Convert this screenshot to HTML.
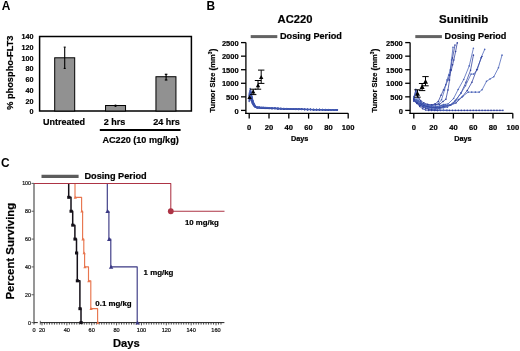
<!DOCTYPE html>
<html><head><meta charset="utf-8"><style>
html,body{margin:0;padding:0;background:#fff;}
svg{display:block;will-change:transform;filter:blur(0.35px);font-family:"Liberation Sans",sans-serif;} text{stroke:#000;stroke-width:0.2px;} 
</style></head><body>
<svg width="520" height="351" viewBox="0 0 520 351" font-weight="bold" >
<rect width="520" height="351" fill="#fff"/>
<text x="1.70" y="9.80" font-size="11.9" text-anchor="start" fill="#000" style="stroke-width:0">A</text>
<rect x="39.6" y="36.5" width="151.8" height="74.5" fill="none" stroke="#000" stroke-width="1.5"/>
<text x="33.60" y="114.35" font-size="7.2" text-anchor="end" fill="#000" >0</text>
<text x="33.60" y="103.62" font-size="7.2" text-anchor="end" fill="#000" >20</text>
<text x="33.60" y="92.89" font-size="7.2" text-anchor="end" fill="#000" >40</text>
<text x="33.60" y="82.16" font-size="7.2" text-anchor="end" fill="#000" >60</text>
<text x="33.60" y="71.43" font-size="7.2" text-anchor="end" fill="#000" >80</text>
<text x="33.60" y="60.71" font-size="7.2" text-anchor="end" fill="#000" >100</text>
<text x="33.60" y="49.98" font-size="7.2" text-anchor="end" fill="#000" >120</text>
<text x="33.60" y="39.25" font-size="7.2" text-anchor="end" fill="#000" >140</text>
<rect x="54.70" y="57.79" width="20" height="53.21" fill="#919191" stroke="#000" stroke-width="1"/>
<rect x="105.55" y="105.52" width="20" height="5.48" fill="#919191" stroke="#000" stroke-width="1"/>
<rect x="155.95" y="76.73" width="20" height="34.27" fill="#919191" stroke="#000" stroke-width="1"/>
<line x1="64.70" y1="47.14" x2="64.70" y2="68.43" stroke="#000" stroke-width="1.1" />
<line x1="63.70" y1="47.14" x2="65.70" y2="47.14" stroke="#000" stroke-width="1.1" />
<line x1="63.70" y1="68.43" x2="65.70" y2="68.43" stroke="#000" stroke-width="1.1" />
<circle cx="115.5" cy="105.8" r="1.2" fill="#000"/>
<line x1="166.10" y1="74.30" x2="166.10" y2="80.00" stroke="#000" stroke-width="1.2" />
<line x1="164.80" y1="74.30" x2="167.40" y2="74.30" stroke="#000" stroke-width="1.2" />
<line x1="164.80" y1="80.00" x2="167.40" y2="80.00" stroke="#000" stroke-width="1.2" />
<text x="64.00" y="124.50" font-size="9" text-anchor="middle" fill="#000" >Untreated</text>
<text x="114.50" y="124.50" font-size="9" text-anchor="middle" fill="#000" >2 hrs</text>
<text x="166.50" y="124.50" font-size="9" text-anchor="middle" fill="#000" >24 hrs</text>
<line x1="99.80" y1="130.00" x2="180.60" y2="130.00" stroke="#000" stroke-width="1.8" />
<text x="140.60" y="142.80" font-size="9.1" text-anchor="middle" fill="#000" >AC220 (10 mg/kg)</text>
<text x="0.00" y="0.00" font-size="9.25" text-anchor="middle" fill="#000" transform="translate(12.7,72.7) rotate(-90)">% phospho-FLT3</text>
<text x="206.60" y="9.60" font-size="11.9" text-anchor="start" fill="#000" style="stroke-width:0">B</text>
<text x="295.00" y="23.20" font-size="11.2" text-anchor="middle" fill="#000" >AC220</text>
<line x1="250.70" y1="36.60" x2="277.30" y2="36.60" stroke="#636363" stroke-width="3.0" />
<text x="280.00" y="39.20" font-size="9.15" text-anchor="start" fill="#000" >Dosing Period</text>
<line x1="245.90" y1="42.60" x2="245.90" y2="113.95" stroke="#000" stroke-width="1.3" />
<line x1="245.25" y1="113.30" x2="348.20" y2="113.30" stroke="#000" stroke-width="1.3" />
<line x1="241.00" y1="110.40" x2="245.90" y2="110.40" stroke="#000" stroke-width="1.3" />
<text x="238.60" y="113.50" font-size="7.5" text-anchor="end" fill="#000" >0</text>
<line x1="249.20" y1="113.30" x2="249.20" y2="118.60" stroke="#000" stroke-width="1.3" />
<text x="249.20" y="129.50" font-size="7.6" text-anchor="middle" fill="#000" >0</text>
<line x1="241.00" y1="96.84" x2="245.90" y2="96.84" stroke="#000" stroke-width="1.3" />
<text x="238.60" y="99.94" font-size="7.5" text-anchor="end" fill="#000" >500</text>
<line x1="269.00" y1="113.30" x2="269.00" y2="118.60" stroke="#000" stroke-width="1.3" />
<text x="269.00" y="129.50" font-size="7.6" text-anchor="middle" fill="#000" >20</text>
<line x1="241.00" y1="83.28" x2="245.90" y2="83.28" stroke="#000" stroke-width="1.3" />
<text x="238.60" y="86.38" font-size="7.5" text-anchor="end" fill="#000" >1000</text>
<line x1="288.80" y1="113.30" x2="288.80" y2="118.60" stroke="#000" stroke-width="1.3" />
<text x="288.80" y="129.50" font-size="7.6" text-anchor="middle" fill="#000" >40</text>
<line x1="241.00" y1="69.72" x2="245.90" y2="69.72" stroke="#000" stroke-width="1.3" />
<text x="238.60" y="72.82" font-size="7.5" text-anchor="end" fill="#000" >1500</text>
<line x1="308.60" y1="113.30" x2="308.60" y2="118.60" stroke="#000" stroke-width="1.3" />
<text x="308.60" y="129.50" font-size="7.6" text-anchor="middle" fill="#000" >60</text>
<line x1="241.00" y1="56.16" x2="245.90" y2="56.16" stroke="#000" stroke-width="1.3" />
<text x="238.60" y="59.26" font-size="7.5" text-anchor="end" fill="#000" >2000</text>
<line x1="328.40" y1="113.30" x2="328.40" y2="118.60" stroke="#000" stroke-width="1.3" />
<text x="328.40" y="129.50" font-size="7.6" text-anchor="middle" fill="#000" >80</text>
<line x1="241.00" y1="42.60" x2="245.90" y2="42.60" stroke="#000" stroke-width="1.3" />
<text x="238.60" y="45.70" font-size="7.5" text-anchor="end" fill="#000" >2500</text>
<line x1="348.20" y1="113.30" x2="348.20" y2="118.60" stroke="#000" stroke-width="1.3" />
<text x="348.20" y="129.50" font-size="7.6" text-anchor="middle" fill="#000" >100</text>
<text x="299.70" y="140.80" font-size="7.3" text-anchor="middle" fill="#000" >Days</text>
<text transform="translate(215.4,80.6) rotate(-90)" x="0" y="0" font-size="7.5" text-anchor="middle">Tumor Size <tspan font-size="8.6" dy="0.6">(</tspan><tspan dy="-0.6">mm</tspan><tspan font-size="4.8" dy="-3.0">3</tspan><tspan font-size="8.6" dy="3.6">)</tspan></text>
<polyline points="249.20,101.53 250.19,99.44 251.18,100.69 252.17,103.20 253.16,105.05 254.15,106.30 255.14,107.14 257.12,107.96 259.10,108.00 261.08,108.09 263.06,108.37 265.04,108.48 267.02,108.31 269.00,108.58 271.97,108.71 274.94,108.58 277.91,108.86 280.88,108.84 283.85,109.05 286.82,109.08 289.79,109.32 292.76,109.24 295.73,109.24 298.70,109.42 301.67,109.41 304.64,109.49 307.61,109.74 310.58,109.57 313.55,109.67 316.52,109.81 319.49,109.94 322.46,109.71 325.43,109.87 328.40,109.83 331.37,109.81 334.34,109.89 337.31,109.85" fill="none" stroke="#2f3f9c" stroke-width="0.8" stroke-linejoin="round" opacity="0.8"/>
<circle cx="249.20" cy="101.53" r="0.75" fill="#2f3f9c" opacity="0.85"/>
<circle cx="250.19" cy="99.44" r="0.75" fill="#2f3f9c" opacity="0.85"/>
<circle cx="251.18" cy="100.69" r="0.75" fill="#2f3f9c" opacity="0.85"/>
<circle cx="252.17" cy="103.20" r="0.75" fill="#2f3f9c" opacity="0.85"/>
<circle cx="253.16" cy="105.05" r="0.75" fill="#2f3f9c" opacity="0.85"/>
<circle cx="254.15" cy="106.30" r="0.75" fill="#2f3f9c" opacity="0.85"/>
<circle cx="255.14" cy="107.14" r="0.75" fill="#2f3f9c" opacity="0.85"/>
<circle cx="257.12" cy="107.96" r="0.75" fill="#2f3f9c" opacity="0.85"/>
<circle cx="259.10" cy="108.00" r="0.75" fill="#2f3f9c" opacity="0.85"/>
<circle cx="261.08" cy="108.09" r="0.75" fill="#2f3f9c" opacity="0.85"/>
<circle cx="263.06" cy="108.37" r="0.75" fill="#2f3f9c" opacity="0.85"/>
<circle cx="265.04" cy="108.48" r="0.75" fill="#2f3f9c" opacity="0.85"/>
<circle cx="267.02" cy="108.31" r="0.75" fill="#2f3f9c" opacity="0.85"/>
<circle cx="269.00" cy="108.58" r="0.75" fill="#2f3f9c" opacity="0.85"/>
<circle cx="271.97" cy="108.71" r="0.75" fill="#2f3f9c" opacity="0.85"/>
<circle cx="274.94" cy="108.58" r="0.75" fill="#2f3f9c" opacity="0.85"/>
<circle cx="277.91" cy="108.86" r="0.75" fill="#2f3f9c" opacity="0.85"/>
<circle cx="280.88" cy="108.84" r="0.75" fill="#2f3f9c" opacity="0.85"/>
<circle cx="283.85" cy="109.05" r="0.75" fill="#2f3f9c" opacity="0.85"/>
<circle cx="286.82" cy="109.08" r="0.75" fill="#2f3f9c" opacity="0.85"/>
<circle cx="289.79" cy="109.32" r="0.75" fill="#2f3f9c" opacity="0.85"/>
<circle cx="292.76" cy="109.24" r="0.75" fill="#2f3f9c" opacity="0.85"/>
<circle cx="295.73" cy="109.24" r="0.75" fill="#2f3f9c" opacity="0.85"/>
<circle cx="298.70" cy="109.42" r="0.75" fill="#2f3f9c" opacity="0.85"/>
<circle cx="301.67" cy="109.41" r="0.75" fill="#2f3f9c" opacity="0.85"/>
<circle cx="304.64" cy="109.49" r="0.75" fill="#2f3f9c" opacity="0.85"/>
<circle cx="307.61" cy="109.74" r="0.75" fill="#2f3f9c" opacity="0.85"/>
<circle cx="310.58" cy="109.57" r="0.75" fill="#2f3f9c" opacity="0.85"/>
<circle cx="313.55" cy="109.67" r="0.75" fill="#2f3f9c" opacity="0.85"/>
<circle cx="316.52" cy="109.81" r="0.75" fill="#2f3f9c" opacity="0.85"/>
<circle cx="319.49" cy="109.94" r="0.75" fill="#2f3f9c" opacity="0.85"/>
<circle cx="322.46" cy="109.71" r="0.75" fill="#2f3f9c" opacity="0.85"/>
<circle cx="325.43" cy="109.87" r="0.75" fill="#2f3f9c" opacity="0.85"/>
<circle cx="328.40" cy="109.83" r="0.75" fill="#2f3f9c" opacity="0.85"/>
<circle cx="331.37" cy="109.81" r="0.75" fill="#2f3f9c" opacity="0.85"/>
<circle cx="334.34" cy="109.89" r="0.75" fill="#2f3f9c" opacity="0.85"/>
<circle cx="337.31" cy="109.85" r="0.75" fill="#2f3f9c" opacity="0.85"/>
<polyline points="249.20,100.48 250.19,98.10 251.18,99.52 252.17,102.38 253.16,104.48 254.15,105.90 255.14,106.86 257.12,107.76 259.10,107.71 261.08,107.84 263.06,108.20 265.04,108.29 267.02,108.36 269.00,108.21 271.97,108.51 274.94,108.57 277.91,108.80 280.88,108.84 283.85,108.98 286.82,109.08 289.79,109.09 292.76,109.18 295.73,109.15 298.70,109.29 301.67,109.28 304.64,109.37 307.61,109.38 310.58,109.54 313.55,109.76 316.52,109.58 319.49,109.59 322.46,109.65 325.43,109.80 328.40,109.79 331.37,109.99 334.34,109.82 337.31,109.94" fill="none" stroke="#4a63b8" stroke-width="0.8" stroke-linejoin="round" opacity="0.8"/>
<circle cx="249.20" cy="100.48" r="0.75" fill="#4a63b8" opacity="0.85"/>
<circle cx="250.19" cy="98.10" r="0.75" fill="#4a63b8" opacity="0.85"/>
<circle cx="251.18" cy="99.52" r="0.75" fill="#4a63b8" opacity="0.85"/>
<circle cx="252.17" cy="102.38" r="0.75" fill="#4a63b8" opacity="0.85"/>
<circle cx="253.16" cy="104.48" r="0.75" fill="#4a63b8" opacity="0.85"/>
<circle cx="254.15" cy="105.90" r="0.75" fill="#4a63b8" opacity="0.85"/>
<circle cx="255.14" cy="106.86" r="0.75" fill="#4a63b8" opacity="0.85"/>
<circle cx="257.12" cy="107.76" r="0.75" fill="#4a63b8" opacity="0.85"/>
<circle cx="259.10" cy="107.71" r="0.75" fill="#4a63b8" opacity="0.85"/>
<circle cx="261.08" cy="107.84" r="0.75" fill="#4a63b8" opacity="0.85"/>
<circle cx="263.06" cy="108.20" r="0.75" fill="#4a63b8" opacity="0.85"/>
<circle cx="265.04" cy="108.29" r="0.75" fill="#4a63b8" opacity="0.85"/>
<circle cx="267.02" cy="108.36" r="0.75" fill="#4a63b8" opacity="0.85"/>
<circle cx="269.00" cy="108.21" r="0.75" fill="#4a63b8" opacity="0.85"/>
<circle cx="271.97" cy="108.51" r="0.75" fill="#4a63b8" opacity="0.85"/>
<circle cx="274.94" cy="108.57" r="0.75" fill="#4a63b8" opacity="0.85"/>
<circle cx="277.91" cy="108.80" r="0.75" fill="#4a63b8" opacity="0.85"/>
<circle cx="280.88" cy="108.84" r="0.75" fill="#4a63b8" opacity="0.85"/>
<circle cx="283.85" cy="108.98" r="0.75" fill="#4a63b8" opacity="0.85"/>
<circle cx="286.82" cy="109.08" r="0.75" fill="#4a63b8" opacity="0.85"/>
<circle cx="289.79" cy="109.09" r="0.75" fill="#4a63b8" opacity="0.85"/>
<circle cx="292.76" cy="109.18" r="0.75" fill="#4a63b8" opacity="0.85"/>
<circle cx="295.73" cy="109.15" r="0.75" fill="#4a63b8" opacity="0.85"/>
<circle cx="298.70" cy="109.29" r="0.75" fill="#4a63b8" opacity="0.85"/>
<circle cx="301.67" cy="109.28" r="0.75" fill="#4a63b8" opacity="0.85"/>
<circle cx="304.64" cy="109.37" r="0.75" fill="#4a63b8" opacity="0.85"/>
<circle cx="307.61" cy="109.38" r="0.75" fill="#4a63b8" opacity="0.85"/>
<circle cx="310.58" cy="109.54" r="0.75" fill="#4a63b8" opacity="0.85"/>
<circle cx="313.55" cy="109.76" r="0.75" fill="#4a63b8" opacity="0.85"/>
<circle cx="316.52" cy="109.58" r="0.75" fill="#4a63b8" opacity="0.85"/>
<circle cx="319.49" cy="109.59" r="0.75" fill="#4a63b8" opacity="0.85"/>
<circle cx="322.46" cy="109.65" r="0.75" fill="#4a63b8" opacity="0.85"/>
<circle cx="325.43" cy="109.80" r="0.75" fill="#4a63b8" opacity="0.85"/>
<circle cx="328.40" cy="109.79" r="0.75" fill="#4a63b8" opacity="0.85"/>
<circle cx="331.37" cy="109.99" r="0.75" fill="#4a63b8" opacity="0.85"/>
<circle cx="334.34" cy="109.82" r="0.75" fill="#4a63b8" opacity="0.85"/>
<circle cx="337.31" cy="109.94" r="0.75" fill="#4a63b8" opacity="0.85"/>
<polyline points="249.20,99.83 250.19,97.19 251.18,98.77 252.17,101.94 253.16,104.26 254.15,105.85 255.14,106.90 257.12,107.75 259.10,107.81 261.08,108.21 263.06,108.08 265.04,108.31 267.02,108.48 269.00,108.52 271.97,108.50 274.94,108.58 277.91,108.96 280.88,108.87 283.85,109.16 286.82,109.03 289.79,109.24 292.76,109.14 295.73,109.18 298.70,109.40 301.67,109.30 304.64,109.59 307.61,109.72 310.58,109.60 313.55,109.84 316.52,109.83 319.49,109.80 322.46,109.78 325.43,109.96 328.40,110.04 331.37,109.80 334.34,110.01 337.31,109.83" fill="none" stroke="#2f3f9c" stroke-width="0.8" stroke-linejoin="round" opacity="0.8"/>
<circle cx="249.20" cy="99.83" r="0.75" fill="#2f3f9c" opacity="0.85"/>
<circle cx="250.19" cy="97.19" r="0.75" fill="#2f3f9c" opacity="0.85"/>
<circle cx="251.18" cy="98.77" r="0.75" fill="#2f3f9c" opacity="0.85"/>
<circle cx="252.17" cy="101.94" r="0.75" fill="#2f3f9c" opacity="0.85"/>
<circle cx="253.16" cy="104.26" r="0.75" fill="#2f3f9c" opacity="0.85"/>
<circle cx="254.15" cy="105.85" r="0.75" fill="#2f3f9c" opacity="0.85"/>
<circle cx="255.14" cy="106.90" r="0.75" fill="#2f3f9c" opacity="0.85"/>
<circle cx="257.12" cy="107.75" r="0.75" fill="#2f3f9c" opacity="0.85"/>
<circle cx="259.10" cy="107.81" r="0.75" fill="#2f3f9c" opacity="0.85"/>
<circle cx="261.08" cy="108.21" r="0.75" fill="#2f3f9c" opacity="0.85"/>
<circle cx="263.06" cy="108.08" r="0.75" fill="#2f3f9c" opacity="0.85"/>
<circle cx="265.04" cy="108.31" r="0.75" fill="#2f3f9c" opacity="0.85"/>
<circle cx="267.02" cy="108.48" r="0.75" fill="#2f3f9c" opacity="0.85"/>
<circle cx="269.00" cy="108.52" r="0.75" fill="#2f3f9c" opacity="0.85"/>
<circle cx="271.97" cy="108.50" r="0.75" fill="#2f3f9c" opacity="0.85"/>
<circle cx="274.94" cy="108.58" r="0.75" fill="#2f3f9c" opacity="0.85"/>
<circle cx="277.91" cy="108.96" r="0.75" fill="#2f3f9c" opacity="0.85"/>
<circle cx="280.88" cy="108.87" r="0.75" fill="#2f3f9c" opacity="0.85"/>
<circle cx="283.85" cy="109.16" r="0.75" fill="#2f3f9c" opacity="0.85"/>
<circle cx="286.82" cy="109.03" r="0.75" fill="#2f3f9c" opacity="0.85"/>
<circle cx="289.79" cy="109.24" r="0.75" fill="#2f3f9c" opacity="0.85"/>
<circle cx="292.76" cy="109.14" r="0.75" fill="#2f3f9c" opacity="0.85"/>
<circle cx="295.73" cy="109.18" r="0.75" fill="#2f3f9c" opacity="0.85"/>
<circle cx="298.70" cy="109.40" r="0.75" fill="#2f3f9c" opacity="0.85"/>
<circle cx="301.67" cy="109.30" r="0.75" fill="#2f3f9c" opacity="0.85"/>
<circle cx="304.64" cy="109.59" r="0.75" fill="#2f3f9c" opacity="0.85"/>
<circle cx="307.61" cy="109.72" r="0.75" fill="#2f3f9c" opacity="0.85"/>
<circle cx="310.58" cy="109.60" r="0.75" fill="#2f3f9c" opacity="0.85"/>
<circle cx="313.55" cy="109.84" r="0.75" fill="#2f3f9c" opacity="0.85"/>
<circle cx="316.52" cy="109.83" r="0.75" fill="#2f3f9c" opacity="0.85"/>
<circle cx="319.49" cy="109.80" r="0.75" fill="#2f3f9c" opacity="0.85"/>
<circle cx="322.46" cy="109.78" r="0.75" fill="#2f3f9c" opacity="0.85"/>
<circle cx="325.43" cy="109.96" r="0.75" fill="#2f3f9c" opacity="0.85"/>
<circle cx="328.40" cy="110.04" r="0.75" fill="#2f3f9c" opacity="0.85"/>
<circle cx="331.37" cy="109.80" r="0.75" fill="#2f3f9c" opacity="0.85"/>
<circle cx="334.34" cy="110.01" r="0.75" fill="#2f3f9c" opacity="0.85"/>
<circle cx="337.31" cy="109.83" r="0.75" fill="#2f3f9c" opacity="0.85"/>
<polyline points="249.20,98.22 250.19,95.11 251.18,96.97 252.17,100.70 253.16,103.44 254.15,105.30 255.14,106.54 257.12,107.68 259.10,107.77 261.08,107.85 263.06,107.97 265.04,108.09 267.02,108.17 269.00,108.16 271.97,108.44 274.94,108.59 277.91,108.61 280.88,108.88 283.85,108.96 286.82,108.84 289.79,109.08 292.76,109.15 295.73,109.41 298.70,109.35 301.67,109.37 304.64,109.61 307.61,109.48 310.58,109.53 313.55,109.77 316.52,109.64 319.49,109.74 322.46,109.71 325.43,109.86 328.40,109.78 331.37,109.81 334.34,110.07 337.31,110.09" fill="none" stroke="#4a63b8" stroke-width="0.8" stroke-linejoin="round" opacity="0.8"/>
<circle cx="249.20" cy="98.22" r="0.75" fill="#4a63b8" opacity="0.85"/>
<circle cx="250.19" cy="95.11" r="0.75" fill="#4a63b8" opacity="0.85"/>
<circle cx="251.18" cy="96.97" r="0.75" fill="#4a63b8" opacity="0.85"/>
<circle cx="252.17" cy="100.70" r="0.75" fill="#4a63b8" opacity="0.85"/>
<circle cx="253.16" cy="103.44" r="0.75" fill="#4a63b8" opacity="0.85"/>
<circle cx="254.15" cy="105.30" r="0.75" fill="#4a63b8" opacity="0.85"/>
<circle cx="255.14" cy="106.54" r="0.75" fill="#4a63b8" opacity="0.85"/>
<circle cx="257.12" cy="107.68" r="0.75" fill="#4a63b8" opacity="0.85"/>
<circle cx="259.10" cy="107.77" r="0.75" fill="#4a63b8" opacity="0.85"/>
<circle cx="261.08" cy="107.85" r="0.75" fill="#4a63b8" opacity="0.85"/>
<circle cx="263.06" cy="107.97" r="0.75" fill="#4a63b8" opacity="0.85"/>
<circle cx="265.04" cy="108.09" r="0.75" fill="#4a63b8" opacity="0.85"/>
<circle cx="267.02" cy="108.17" r="0.75" fill="#4a63b8" opacity="0.85"/>
<circle cx="269.00" cy="108.16" r="0.75" fill="#4a63b8" opacity="0.85"/>
<circle cx="271.97" cy="108.44" r="0.75" fill="#4a63b8" opacity="0.85"/>
<circle cx="274.94" cy="108.59" r="0.75" fill="#4a63b8" opacity="0.85"/>
<circle cx="277.91" cy="108.61" r="0.75" fill="#4a63b8" opacity="0.85"/>
<circle cx="280.88" cy="108.88" r="0.75" fill="#4a63b8" opacity="0.85"/>
<circle cx="283.85" cy="108.96" r="0.75" fill="#4a63b8" opacity="0.85"/>
<circle cx="286.82" cy="108.84" r="0.75" fill="#4a63b8" opacity="0.85"/>
<circle cx="289.79" cy="109.08" r="0.75" fill="#4a63b8" opacity="0.85"/>
<circle cx="292.76" cy="109.15" r="0.75" fill="#4a63b8" opacity="0.85"/>
<circle cx="295.73" cy="109.41" r="0.75" fill="#4a63b8" opacity="0.85"/>
<circle cx="298.70" cy="109.35" r="0.75" fill="#4a63b8" opacity="0.85"/>
<circle cx="301.67" cy="109.37" r="0.75" fill="#4a63b8" opacity="0.85"/>
<circle cx="304.64" cy="109.61" r="0.75" fill="#4a63b8" opacity="0.85"/>
<circle cx="307.61" cy="109.48" r="0.75" fill="#4a63b8" opacity="0.85"/>
<circle cx="310.58" cy="109.53" r="0.75" fill="#4a63b8" opacity="0.85"/>
<circle cx="313.55" cy="109.77" r="0.75" fill="#4a63b8" opacity="0.85"/>
<circle cx="316.52" cy="109.64" r="0.75" fill="#4a63b8" opacity="0.85"/>
<circle cx="319.49" cy="109.74" r="0.75" fill="#4a63b8" opacity="0.85"/>
<circle cx="322.46" cy="109.71" r="0.75" fill="#4a63b8" opacity="0.85"/>
<circle cx="325.43" cy="109.86" r="0.75" fill="#4a63b8" opacity="0.85"/>
<circle cx="328.40" cy="109.78" r="0.75" fill="#4a63b8" opacity="0.85"/>
<circle cx="331.37" cy="109.81" r="0.75" fill="#4a63b8" opacity="0.85"/>
<circle cx="334.34" cy="110.07" r="0.75" fill="#4a63b8" opacity="0.85"/>
<circle cx="337.31" cy="110.09" r="0.75" fill="#4a63b8" opacity="0.85"/>
<polyline points="249.20,97.60 250.19,94.38 251.18,96.31 252.17,100.17 253.16,103.00 254.15,104.93 255.14,106.21 257.12,107.46 259.10,107.52 261.08,107.60 263.06,107.81 265.04,107.91 267.02,108.04 269.00,108.13 271.97,108.20 274.94,108.44 277.91,108.54 280.88,108.54 283.85,108.89 286.82,108.83 289.79,108.87 292.76,109.10 295.73,109.22 298.70,109.11 301.67,109.37 304.64,109.46 307.61,109.45 310.58,109.42 313.55,109.68 316.52,109.66 319.49,109.71 322.46,109.59 325.43,109.77 328.40,109.67 331.37,109.94 334.34,109.92 337.31,109.85" fill="none" stroke="#2f3f9c" stroke-width="0.8" stroke-linejoin="round" opacity="0.8"/>
<circle cx="249.20" cy="97.60" r="0.75" fill="#2f3f9c" opacity="0.85"/>
<circle cx="250.19" cy="94.38" r="0.75" fill="#2f3f9c" opacity="0.85"/>
<circle cx="251.18" cy="96.31" r="0.75" fill="#2f3f9c" opacity="0.85"/>
<circle cx="252.17" cy="100.17" r="0.75" fill="#2f3f9c" opacity="0.85"/>
<circle cx="253.16" cy="103.00" r="0.75" fill="#2f3f9c" opacity="0.85"/>
<circle cx="254.15" cy="104.93" r="0.75" fill="#2f3f9c" opacity="0.85"/>
<circle cx="255.14" cy="106.21" r="0.75" fill="#2f3f9c" opacity="0.85"/>
<circle cx="257.12" cy="107.46" r="0.75" fill="#2f3f9c" opacity="0.85"/>
<circle cx="259.10" cy="107.52" r="0.75" fill="#2f3f9c" opacity="0.85"/>
<circle cx="261.08" cy="107.60" r="0.75" fill="#2f3f9c" opacity="0.85"/>
<circle cx="263.06" cy="107.81" r="0.75" fill="#2f3f9c" opacity="0.85"/>
<circle cx="265.04" cy="107.91" r="0.75" fill="#2f3f9c" opacity="0.85"/>
<circle cx="267.02" cy="108.04" r="0.75" fill="#2f3f9c" opacity="0.85"/>
<circle cx="269.00" cy="108.13" r="0.75" fill="#2f3f9c" opacity="0.85"/>
<circle cx="271.97" cy="108.20" r="0.75" fill="#2f3f9c" opacity="0.85"/>
<circle cx="274.94" cy="108.44" r="0.75" fill="#2f3f9c" opacity="0.85"/>
<circle cx="277.91" cy="108.54" r="0.75" fill="#2f3f9c" opacity="0.85"/>
<circle cx="280.88" cy="108.54" r="0.75" fill="#2f3f9c" opacity="0.85"/>
<circle cx="283.85" cy="108.89" r="0.75" fill="#2f3f9c" opacity="0.85"/>
<circle cx="286.82" cy="108.83" r="0.75" fill="#2f3f9c" opacity="0.85"/>
<circle cx="289.79" cy="108.87" r="0.75" fill="#2f3f9c" opacity="0.85"/>
<circle cx="292.76" cy="109.10" r="0.75" fill="#2f3f9c" opacity="0.85"/>
<circle cx="295.73" cy="109.22" r="0.75" fill="#2f3f9c" opacity="0.85"/>
<circle cx="298.70" cy="109.11" r="0.75" fill="#2f3f9c" opacity="0.85"/>
<circle cx="301.67" cy="109.37" r="0.75" fill="#2f3f9c" opacity="0.85"/>
<circle cx="304.64" cy="109.46" r="0.75" fill="#2f3f9c" opacity="0.85"/>
<circle cx="307.61" cy="109.45" r="0.75" fill="#2f3f9c" opacity="0.85"/>
<circle cx="310.58" cy="109.42" r="0.75" fill="#2f3f9c" opacity="0.85"/>
<circle cx="313.55" cy="109.68" r="0.75" fill="#2f3f9c" opacity="0.85"/>
<circle cx="316.52" cy="109.66" r="0.75" fill="#2f3f9c" opacity="0.85"/>
<circle cx="319.49" cy="109.71" r="0.75" fill="#2f3f9c" opacity="0.85"/>
<circle cx="322.46" cy="109.59" r="0.75" fill="#2f3f9c" opacity="0.85"/>
<circle cx="325.43" cy="109.77" r="0.75" fill="#2f3f9c" opacity="0.85"/>
<circle cx="328.40" cy="109.67" r="0.75" fill="#2f3f9c" opacity="0.85"/>
<circle cx="331.37" cy="109.94" r="0.75" fill="#2f3f9c" opacity="0.85"/>
<circle cx="334.34" cy="109.92" r="0.75" fill="#2f3f9c" opacity="0.85"/>
<circle cx="337.31" cy="109.85" r="0.75" fill="#2f3f9c" opacity="0.85"/>
<polyline points="249.20,96.54 250.19,92.96 251.18,95.11 252.17,99.41 253.16,102.57 254.15,104.72 255.14,106.15 257.12,107.52 259.10,107.68 261.08,107.67 263.06,107.90 265.04,107.82 267.02,107.91 269.00,108.23 271.97,108.35 274.94,108.31 277.91,108.49 280.88,108.56 283.85,108.82 286.82,109.00 289.79,109.04 292.76,108.97 295.73,109.23 298.70,109.28 301.67,109.34 304.64,109.40 307.61,109.47 310.58,109.37 313.55,109.68 316.52,109.78 319.49,109.52 322.46,109.59 325.43,109.60 328.40,109.82 331.37,109.69 334.34,109.74 337.31,110.00" fill="none" stroke="#4a63b8" stroke-width="0.8" stroke-linejoin="round" opacity="0.8"/>
<circle cx="249.20" cy="96.54" r="0.75" fill="#4a63b8" opacity="0.85"/>
<circle cx="250.19" cy="92.96" r="0.75" fill="#4a63b8" opacity="0.85"/>
<circle cx="251.18" cy="95.11" r="0.75" fill="#4a63b8" opacity="0.85"/>
<circle cx="252.17" cy="99.41" r="0.75" fill="#4a63b8" opacity="0.85"/>
<circle cx="253.16" cy="102.57" r="0.75" fill="#4a63b8" opacity="0.85"/>
<circle cx="254.15" cy="104.72" r="0.75" fill="#4a63b8" opacity="0.85"/>
<circle cx="255.14" cy="106.15" r="0.75" fill="#4a63b8" opacity="0.85"/>
<circle cx="257.12" cy="107.52" r="0.75" fill="#4a63b8" opacity="0.85"/>
<circle cx="259.10" cy="107.68" r="0.75" fill="#4a63b8" opacity="0.85"/>
<circle cx="261.08" cy="107.67" r="0.75" fill="#4a63b8" opacity="0.85"/>
<circle cx="263.06" cy="107.90" r="0.75" fill="#4a63b8" opacity="0.85"/>
<circle cx="265.04" cy="107.82" r="0.75" fill="#4a63b8" opacity="0.85"/>
<circle cx="267.02" cy="107.91" r="0.75" fill="#4a63b8" opacity="0.85"/>
<circle cx="269.00" cy="108.23" r="0.75" fill="#4a63b8" opacity="0.85"/>
<circle cx="271.97" cy="108.35" r="0.75" fill="#4a63b8" opacity="0.85"/>
<circle cx="274.94" cy="108.31" r="0.75" fill="#4a63b8" opacity="0.85"/>
<circle cx="277.91" cy="108.49" r="0.75" fill="#4a63b8" opacity="0.85"/>
<circle cx="280.88" cy="108.56" r="0.75" fill="#4a63b8" opacity="0.85"/>
<circle cx="283.85" cy="108.82" r="0.75" fill="#4a63b8" opacity="0.85"/>
<circle cx="286.82" cy="109.00" r="0.75" fill="#4a63b8" opacity="0.85"/>
<circle cx="289.79" cy="109.04" r="0.75" fill="#4a63b8" opacity="0.85"/>
<circle cx="292.76" cy="108.97" r="0.75" fill="#4a63b8" opacity="0.85"/>
<circle cx="295.73" cy="109.23" r="0.75" fill="#4a63b8" opacity="0.85"/>
<circle cx="298.70" cy="109.28" r="0.75" fill="#4a63b8" opacity="0.85"/>
<circle cx="301.67" cy="109.34" r="0.75" fill="#4a63b8" opacity="0.85"/>
<circle cx="304.64" cy="109.40" r="0.75" fill="#4a63b8" opacity="0.85"/>
<circle cx="307.61" cy="109.47" r="0.75" fill="#4a63b8" opacity="0.85"/>
<circle cx="310.58" cy="109.37" r="0.75" fill="#4a63b8" opacity="0.85"/>
<circle cx="313.55" cy="109.68" r="0.75" fill="#4a63b8" opacity="0.85"/>
<circle cx="316.52" cy="109.78" r="0.75" fill="#4a63b8" opacity="0.85"/>
<circle cx="319.49" cy="109.52" r="0.75" fill="#4a63b8" opacity="0.85"/>
<circle cx="322.46" cy="109.59" r="0.75" fill="#4a63b8" opacity="0.85"/>
<circle cx="325.43" cy="109.60" r="0.75" fill="#4a63b8" opacity="0.85"/>
<circle cx="328.40" cy="109.82" r="0.75" fill="#4a63b8" opacity="0.85"/>
<circle cx="331.37" cy="109.69" r="0.75" fill="#4a63b8" opacity="0.85"/>
<circle cx="334.34" cy="109.74" r="0.75" fill="#4a63b8" opacity="0.85"/>
<circle cx="337.31" cy="110.00" r="0.75" fill="#4a63b8" opacity="0.85"/>
<polyline points="249.20,95.84 250.19,92.10 251.18,94.35 252.17,98.83 253.16,102.13 254.15,104.37 255.14,105.87 257.12,107.16 259.10,107.34 261.08,107.55 263.06,107.66 265.04,107.82 267.02,107.98 269.00,107.93 271.97,108.18 274.94,108.16 277.91,108.55 280.88,108.40 283.85,108.59 286.82,108.62 289.79,108.74 292.76,108.84 295.73,109.03 298.70,109.30 301.67,109.15 304.64,109.41 307.61,109.44 310.58,109.39 313.55,109.49 316.52,109.59 319.49,109.47 322.46,109.63 325.43,109.76 328.40,109.84 331.37,109.68 334.34,109.84 337.31,109.78" fill="none" stroke="#2f3f9c" stroke-width="0.8" stroke-linejoin="round" opacity="0.8"/>
<circle cx="249.20" cy="95.84" r="0.75" fill="#2f3f9c" opacity="0.85"/>
<circle cx="250.19" cy="92.10" r="0.75" fill="#2f3f9c" opacity="0.85"/>
<circle cx="251.18" cy="94.35" r="0.75" fill="#2f3f9c" opacity="0.85"/>
<circle cx="252.17" cy="98.83" r="0.75" fill="#2f3f9c" opacity="0.85"/>
<circle cx="253.16" cy="102.13" r="0.75" fill="#2f3f9c" opacity="0.85"/>
<circle cx="254.15" cy="104.37" r="0.75" fill="#2f3f9c" opacity="0.85"/>
<circle cx="255.14" cy="105.87" r="0.75" fill="#2f3f9c" opacity="0.85"/>
<circle cx="257.12" cy="107.16" r="0.75" fill="#2f3f9c" opacity="0.85"/>
<circle cx="259.10" cy="107.34" r="0.75" fill="#2f3f9c" opacity="0.85"/>
<circle cx="261.08" cy="107.55" r="0.75" fill="#2f3f9c" opacity="0.85"/>
<circle cx="263.06" cy="107.66" r="0.75" fill="#2f3f9c" opacity="0.85"/>
<circle cx="265.04" cy="107.82" r="0.75" fill="#2f3f9c" opacity="0.85"/>
<circle cx="267.02" cy="107.98" r="0.75" fill="#2f3f9c" opacity="0.85"/>
<circle cx="269.00" cy="107.93" r="0.75" fill="#2f3f9c" opacity="0.85"/>
<circle cx="271.97" cy="108.18" r="0.75" fill="#2f3f9c" opacity="0.85"/>
<circle cx="274.94" cy="108.16" r="0.75" fill="#2f3f9c" opacity="0.85"/>
<circle cx="277.91" cy="108.55" r="0.75" fill="#2f3f9c" opacity="0.85"/>
<circle cx="280.88" cy="108.40" r="0.75" fill="#2f3f9c" opacity="0.85"/>
<circle cx="283.85" cy="108.59" r="0.75" fill="#2f3f9c" opacity="0.85"/>
<circle cx="286.82" cy="108.62" r="0.75" fill="#2f3f9c" opacity="0.85"/>
<circle cx="289.79" cy="108.74" r="0.75" fill="#2f3f9c" opacity="0.85"/>
<circle cx="292.76" cy="108.84" r="0.75" fill="#2f3f9c" opacity="0.85"/>
<circle cx="295.73" cy="109.03" r="0.75" fill="#2f3f9c" opacity="0.85"/>
<circle cx="298.70" cy="109.30" r="0.75" fill="#2f3f9c" opacity="0.85"/>
<circle cx="301.67" cy="109.15" r="0.75" fill="#2f3f9c" opacity="0.85"/>
<circle cx="304.64" cy="109.41" r="0.75" fill="#2f3f9c" opacity="0.85"/>
<circle cx="307.61" cy="109.44" r="0.75" fill="#2f3f9c" opacity="0.85"/>
<circle cx="310.58" cy="109.39" r="0.75" fill="#2f3f9c" opacity="0.85"/>
<circle cx="313.55" cy="109.49" r="0.75" fill="#2f3f9c" opacity="0.85"/>
<circle cx="316.52" cy="109.59" r="0.75" fill="#2f3f9c" opacity="0.85"/>
<circle cx="319.49" cy="109.47" r="0.75" fill="#2f3f9c" opacity="0.85"/>
<circle cx="322.46" cy="109.63" r="0.75" fill="#2f3f9c" opacity="0.85"/>
<circle cx="325.43" cy="109.76" r="0.75" fill="#2f3f9c" opacity="0.85"/>
<circle cx="328.40" cy="109.84" r="0.75" fill="#2f3f9c" opacity="0.85"/>
<circle cx="331.37" cy="109.68" r="0.75" fill="#2f3f9c" opacity="0.85"/>
<circle cx="334.34" cy="109.84" r="0.75" fill="#2f3f9c" opacity="0.85"/>
<circle cx="337.31" cy="109.78" r="0.75" fill="#2f3f9c" opacity="0.85"/>
<polyline points="249.20,95.53 250.19,91.66 251.18,93.98 252.17,98.63 253.16,102.05 254.15,104.37 255.14,105.92 257.12,107.29 259.10,107.33 261.08,107.67 263.06,107.60 265.04,107.67 267.02,107.82 269.00,107.92 271.97,108.34 274.94,108.28 277.91,108.34 280.88,108.73 283.85,108.77 286.82,108.89 289.79,108.90 292.76,109.03 295.73,109.11 298.70,109.09 301.67,109.42 304.64,109.48 307.61,109.52 310.58,109.59 313.55,109.67 316.52,109.43 319.49,109.52 322.46,109.82 325.43,109.73 328.40,109.83 331.37,109.88 334.34,109.90 337.31,109.84" fill="none" stroke="#4a63b8" stroke-width="0.8" stroke-linejoin="round" opacity="0.8"/>
<circle cx="249.20" cy="95.53" r="0.75" fill="#4a63b8" opacity="0.85"/>
<circle cx="250.19" cy="91.66" r="0.75" fill="#4a63b8" opacity="0.85"/>
<circle cx="251.18" cy="93.98" r="0.75" fill="#4a63b8" opacity="0.85"/>
<circle cx="252.17" cy="98.63" r="0.75" fill="#4a63b8" opacity="0.85"/>
<circle cx="253.16" cy="102.05" r="0.75" fill="#4a63b8" opacity="0.85"/>
<circle cx="254.15" cy="104.37" r="0.75" fill="#4a63b8" opacity="0.85"/>
<circle cx="255.14" cy="105.92" r="0.75" fill="#4a63b8" opacity="0.85"/>
<circle cx="257.12" cy="107.29" r="0.75" fill="#4a63b8" opacity="0.85"/>
<circle cx="259.10" cy="107.33" r="0.75" fill="#4a63b8" opacity="0.85"/>
<circle cx="261.08" cy="107.67" r="0.75" fill="#4a63b8" opacity="0.85"/>
<circle cx="263.06" cy="107.60" r="0.75" fill="#4a63b8" opacity="0.85"/>
<circle cx="265.04" cy="107.67" r="0.75" fill="#4a63b8" opacity="0.85"/>
<circle cx="267.02" cy="107.82" r="0.75" fill="#4a63b8" opacity="0.85"/>
<circle cx="269.00" cy="107.92" r="0.75" fill="#4a63b8" opacity="0.85"/>
<circle cx="271.97" cy="108.34" r="0.75" fill="#4a63b8" opacity="0.85"/>
<circle cx="274.94" cy="108.28" r="0.75" fill="#4a63b8" opacity="0.85"/>
<circle cx="277.91" cy="108.34" r="0.75" fill="#4a63b8" opacity="0.85"/>
<circle cx="280.88" cy="108.73" r="0.75" fill="#4a63b8" opacity="0.85"/>
<circle cx="283.85" cy="108.77" r="0.75" fill="#4a63b8" opacity="0.85"/>
<circle cx="286.82" cy="108.89" r="0.75" fill="#4a63b8" opacity="0.85"/>
<circle cx="289.79" cy="108.90" r="0.75" fill="#4a63b8" opacity="0.85"/>
<circle cx="292.76" cy="109.03" r="0.75" fill="#4a63b8" opacity="0.85"/>
<circle cx="295.73" cy="109.11" r="0.75" fill="#4a63b8" opacity="0.85"/>
<circle cx="298.70" cy="109.09" r="0.75" fill="#4a63b8" opacity="0.85"/>
<circle cx="301.67" cy="109.42" r="0.75" fill="#4a63b8" opacity="0.85"/>
<circle cx="304.64" cy="109.48" r="0.75" fill="#4a63b8" opacity="0.85"/>
<circle cx="307.61" cy="109.52" r="0.75" fill="#4a63b8" opacity="0.85"/>
<circle cx="310.58" cy="109.59" r="0.75" fill="#4a63b8" opacity="0.85"/>
<circle cx="313.55" cy="109.67" r="0.75" fill="#4a63b8" opacity="0.85"/>
<circle cx="316.52" cy="109.43" r="0.75" fill="#4a63b8" opacity="0.85"/>
<circle cx="319.49" cy="109.52" r="0.75" fill="#4a63b8" opacity="0.85"/>
<circle cx="322.46" cy="109.82" r="0.75" fill="#4a63b8" opacity="0.85"/>
<circle cx="325.43" cy="109.73" r="0.75" fill="#4a63b8" opacity="0.85"/>
<circle cx="328.40" cy="109.83" r="0.75" fill="#4a63b8" opacity="0.85"/>
<circle cx="331.37" cy="109.88" r="0.75" fill="#4a63b8" opacity="0.85"/>
<circle cx="334.34" cy="109.90" r="0.75" fill="#4a63b8" opacity="0.85"/>
<circle cx="337.31" cy="109.84" r="0.75" fill="#4a63b8" opacity="0.85"/>
<polyline points="249.20,94.39 250.19,90.19 251.18,92.71 252.17,97.76 253.16,101.45 254.15,103.98 255.14,105.66 257.12,107.25 259.10,107.35 261.08,107.55 263.06,107.54 265.04,107.61 267.02,107.84 269.00,108.05 271.97,108.18 274.94,108.26 277.91,108.33 280.88,108.40 283.85,108.65 286.82,108.63 289.79,108.80 292.76,108.96 295.73,109.07 298.70,109.12 301.67,109.14 304.64,109.31 307.61,109.29 310.58,109.43 313.55,109.57 316.52,109.53 319.49,109.53 322.46,109.79 325.43,109.72 328.40,109.77 331.37,109.66 334.34,109.68 337.31,109.90" fill="none" stroke="#2f3f9c" stroke-width="0.8" stroke-linejoin="round" opacity="0.8"/>
<circle cx="249.20" cy="94.39" r="0.75" fill="#2f3f9c" opacity="0.85"/>
<circle cx="250.19" cy="90.19" r="0.75" fill="#2f3f9c" opacity="0.85"/>
<circle cx="251.18" cy="92.71" r="0.75" fill="#2f3f9c" opacity="0.85"/>
<circle cx="252.17" cy="97.76" r="0.75" fill="#2f3f9c" opacity="0.85"/>
<circle cx="253.16" cy="101.45" r="0.75" fill="#2f3f9c" opacity="0.85"/>
<circle cx="254.15" cy="103.98" r="0.75" fill="#2f3f9c" opacity="0.85"/>
<circle cx="255.14" cy="105.66" r="0.75" fill="#2f3f9c" opacity="0.85"/>
<circle cx="257.12" cy="107.25" r="0.75" fill="#2f3f9c" opacity="0.85"/>
<circle cx="259.10" cy="107.35" r="0.75" fill="#2f3f9c" opacity="0.85"/>
<circle cx="261.08" cy="107.55" r="0.75" fill="#2f3f9c" opacity="0.85"/>
<circle cx="263.06" cy="107.54" r="0.75" fill="#2f3f9c" opacity="0.85"/>
<circle cx="265.04" cy="107.61" r="0.75" fill="#2f3f9c" opacity="0.85"/>
<circle cx="267.02" cy="107.84" r="0.75" fill="#2f3f9c" opacity="0.85"/>
<circle cx="269.00" cy="108.05" r="0.75" fill="#2f3f9c" opacity="0.85"/>
<circle cx="271.97" cy="108.18" r="0.75" fill="#2f3f9c" opacity="0.85"/>
<circle cx="274.94" cy="108.26" r="0.75" fill="#2f3f9c" opacity="0.85"/>
<circle cx="277.91" cy="108.33" r="0.75" fill="#2f3f9c" opacity="0.85"/>
<circle cx="280.88" cy="108.40" r="0.75" fill="#2f3f9c" opacity="0.85"/>
<circle cx="283.85" cy="108.65" r="0.75" fill="#2f3f9c" opacity="0.85"/>
<circle cx="286.82" cy="108.63" r="0.75" fill="#2f3f9c" opacity="0.85"/>
<circle cx="289.79" cy="108.80" r="0.75" fill="#2f3f9c" opacity="0.85"/>
<circle cx="292.76" cy="108.96" r="0.75" fill="#2f3f9c" opacity="0.85"/>
<circle cx="295.73" cy="109.07" r="0.75" fill="#2f3f9c" opacity="0.85"/>
<circle cx="298.70" cy="109.12" r="0.75" fill="#2f3f9c" opacity="0.85"/>
<circle cx="301.67" cy="109.14" r="0.75" fill="#2f3f9c" opacity="0.85"/>
<circle cx="304.64" cy="109.31" r="0.75" fill="#2f3f9c" opacity="0.85"/>
<circle cx="307.61" cy="109.29" r="0.75" fill="#2f3f9c" opacity="0.85"/>
<circle cx="310.58" cy="109.43" r="0.75" fill="#2f3f9c" opacity="0.85"/>
<circle cx="313.55" cy="109.57" r="0.75" fill="#2f3f9c" opacity="0.85"/>
<circle cx="316.52" cy="109.53" r="0.75" fill="#2f3f9c" opacity="0.85"/>
<circle cx="319.49" cy="109.53" r="0.75" fill="#2f3f9c" opacity="0.85"/>
<circle cx="322.46" cy="109.79" r="0.75" fill="#2f3f9c" opacity="0.85"/>
<circle cx="325.43" cy="109.72" r="0.75" fill="#2f3f9c" opacity="0.85"/>
<circle cx="328.40" cy="109.77" r="0.75" fill="#2f3f9c" opacity="0.85"/>
<circle cx="331.37" cy="109.66" r="0.75" fill="#2f3f9c" opacity="0.85"/>
<circle cx="334.34" cy="109.68" r="0.75" fill="#2f3f9c" opacity="0.85"/>
<circle cx="337.31" cy="109.90" r="0.75" fill="#2f3f9c" opacity="0.85"/>
<polyline points="249.20,93.14 250.19,88.60 251.18,91.32 252.17,96.77 253.16,100.76 254.15,103.48 255.14,105.30 257.12,106.99 259.10,107.07 261.08,107.33 263.06,107.24 265.04,107.43 267.02,107.48 269.00,107.63 271.97,107.85 274.94,107.99 277.91,108.19 280.88,108.48 283.85,108.46 286.82,108.77 289.79,108.84 292.76,108.74 295.73,109.08 298.70,109.16 301.67,109.25 304.64,109.08 307.61,109.38 310.58,109.50 313.55,109.31 316.52,109.60 319.49,109.43 322.46,109.54 325.43,109.54 328.40,109.55 331.37,109.72 334.34,109.69 337.31,109.97" fill="none" stroke="#4a63b8" stroke-width="0.8" stroke-linejoin="round" opacity="0.8"/>
<circle cx="249.20" cy="93.14" r="0.75" fill="#4a63b8" opacity="0.85"/>
<circle cx="250.19" cy="88.60" r="0.75" fill="#4a63b8" opacity="0.85"/>
<circle cx="251.18" cy="91.32" r="0.75" fill="#4a63b8" opacity="0.85"/>
<circle cx="252.17" cy="96.77" r="0.75" fill="#4a63b8" opacity="0.85"/>
<circle cx="253.16" cy="100.76" r="0.75" fill="#4a63b8" opacity="0.85"/>
<circle cx="254.15" cy="103.48" r="0.75" fill="#4a63b8" opacity="0.85"/>
<circle cx="255.14" cy="105.30" r="0.75" fill="#4a63b8" opacity="0.85"/>
<circle cx="257.12" cy="106.99" r="0.75" fill="#4a63b8" opacity="0.85"/>
<circle cx="259.10" cy="107.07" r="0.75" fill="#4a63b8" opacity="0.85"/>
<circle cx="261.08" cy="107.33" r="0.75" fill="#4a63b8" opacity="0.85"/>
<circle cx="263.06" cy="107.24" r="0.75" fill="#4a63b8" opacity="0.85"/>
<circle cx="265.04" cy="107.43" r="0.75" fill="#4a63b8" opacity="0.85"/>
<circle cx="267.02" cy="107.48" r="0.75" fill="#4a63b8" opacity="0.85"/>
<circle cx="269.00" cy="107.63" r="0.75" fill="#4a63b8" opacity="0.85"/>
<circle cx="271.97" cy="107.85" r="0.75" fill="#4a63b8" opacity="0.85"/>
<circle cx="274.94" cy="107.99" r="0.75" fill="#4a63b8" opacity="0.85"/>
<circle cx="277.91" cy="108.19" r="0.75" fill="#4a63b8" opacity="0.85"/>
<circle cx="280.88" cy="108.48" r="0.75" fill="#4a63b8" opacity="0.85"/>
<circle cx="283.85" cy="108.46" r="0.75" fill="#4a63b8" opacity="0.85"/>
<circle cx="286.82" cy="108.77" r="0.75" fill="#4a63b8" opacity="0.85"/>
<circle cx="289.79" cy="108.84" r="0.75" fill="#4a63b8" opacity="0.85"/>
<circle cx="292.76" cy="108.74" r="0.75" fill="#4a63b8" opacity="0.85"/>
<circle cx="295.73" cy="109.08" r="0.75" fill="#4a63b8" opacity="0.85"/>
<circle cx="298.70" cy="109.16" r="0.75" fill="#4a63b8" opacity="0.85"/>
<circle cx="301.67" cy="109.25" r="0.75" fill="#4a63b8" opacity="0.85"/>
<circle cx="304.64" cy="109.08" r="0.75" fill="#4a63b8" opacity="0.85"/>
<circle cx="307.61" cy="109.38" r="0.75" fill="#4a63b8" opacity="0.85"/>
<circle cx="310.58" cy="109.50" r="0.75" fill="#4a63b8" opacity="0.85"/>
<circle cx="313.55" cy="109.31" r="0.75" fill="#4a63b8" opacity="0.85"/>
<circle cx="316.52" cy="109.60" r="0.75" fill="#4a63b8" opacity="0.85"/>
<circle cx="319.49" cy="109.43" r="0.75" fill="#4a63b8" opacity="0.85"/>
<circle cx="322.46" cy="109.54" r="0.75" fill="#4a63b8" opacity="0.85"/>
<circle cx="325.43" cy="109.54" r="0.75" fill="#4a63b8" opacity="0.85"/>
<circle cx="328.40" cy="109.55" r="0.75" fill="#4a63b8" opacity="0.85"/>
<circle cx="331.37" cy="109.72" r="0.75" fill="#4a63b8" opacity="0.85"/>
<circle cx="334.34" cy="109.69" r="0.75" fill="#4a63b8" opacity="0.85"/>
<circle cx="337.31" cy="109.97" r="0.75" fill="#4a63b8" opacity="0.85"/>
<path d="M249.60,95.00 L251.80,99.07 L247.40,99.07Z" fill="#000"/>
<line x1="253.20" y1="89.20" x2="253.20" y2="94.60" stroke="#000" stroke-width="1.0" />
<line x1="250.00" y1="89.20" x2="256.40" y2="89.20" stroke="#000" stroke-width="1.0" />
<line x1="250.00" y1="94.60" x2="256.40" y2="94.60" stroke="#000" stroke-width="1.0" />
<path d="M253.20,89.50 L255.40,93.57 L251.00,93.57Z" fill="#000"/>
<line x1="258.00" y1="80.50" x2="258.00" y2="89.20" stroke="#000" stroke-width="1.0" />
<line x1="254.80" y1="80.50" x2="261.20" y2="80.50" stroke="#000" stroke-width="1.0" />
<line x1="254.80" y1="89.20" x2="261.20" y2="89.20" stroke="#000" stroke-width="1.0" />
<path d="M258.00,83.20 L260.20,87.27 L255.80,87.27Z" fill="#000"/>
<line x1="261.20" y1="70.10" x2="261.20" y2="83.40" stroke="#000" stroke-width="1.0" />
<line x1="258.00" y1="70.10" x2="264.40" y2="70.10" stroke="#000" stroke-width="1.0" />
<line x1="258.00" y1="83.40" x2="264.40" y2="83.40" stroke="#000" stroke-width="1.0" />
<path d="M261.20,74.90 L263.40,78.97 L259.00,78.97Z" fill="#000"/>
<text x="463.70" y="23.20" font-size="11.5" text-anchor="middle" fill="#000" >Sunitinib</text>
<line x1="415.30" y1="36.60" x2="441.90" y2="36.60" stroke="#636363" stroke-width="3.0" />
<text x="444.60" y="39.20" font-size="9.15" text-anchor="start" fill="#000" >Dosing Period</text>
<line x1="410.10" y1="42.60" x2="410.10" y2="113.95" stroke="#000" stroke-width="1.3" />
<line x1="409.45" y1="113.30" x2="512.80" y2="113.30" stroke="#000" stroke-width="1.3" />
<line x1="405.20" y1="110.40" x2="410.10" y2="110.40" stroke="#000" stroke-width="1.3" />
<text x="402.80" y="113.50" font-size="7.5" text-anchor="end" fill="#000" >0</text>
<line x1="413.80" y1="113.30" x2="413.80" y2="118.60" stroke="#000" stroke-width="1.3" />
<text x="413.80" y="129.50" font-size="7.6" text-anchor="middle" fill="#000" >0</text>
<line x1="405.20" y1="96.84" x2="410.10" y2="96.84" stroke="#000" stroke-width="1.3" />
<text x="402.80" y="99.94" font-size="7.5" text-anchor="end" fill="#000" >500</text>
<line x1="433.60" y1="113.30" x2="433.60" y2="118.60" stroke="#000" stroke-width="1.3" />
<text x="433.60" y="129.50" font-size="7.6" text-anchor="middle" fill="#000" >20</text>
<line x1="405.20" y1="83.28" x2="410.10" y2="83.28" stroke="#000" stroke-width="1.3" />
<text x="402.80" y="86.38" font-size="7.5" text-anchor="end" fill="#000" >1000</text>
<line x1="453.40" y1="113.30" x2="453.40" y2="118.60" stroke="#000" stroke-width="1.3" />
<text x="453.40" y="129.50" font-size="7.6" text-anchor="middle" fill="#000" >40</text>
<line x1="405.20" y1="69.72" x2="410.10" y2="69.72" stroke="#000" stroke-width="1.3" />
<text x="402.80" y="72.82" font-size="7.5" text-anchor="end" fill="#000" >1500</text>
<line x1="473.20" y1="113.30" x2="473.20" y2="118.60" stroke="#000" stroke-width="1.3" />
<text x="473.20" y="129.50" font-size="7.6" text-anchor="middle" fill="#000" >60</text>
<line x1="405.20" y1="56.16" x2="410.10" y2="56.16" stroke="#000" stroke-width="1.3" />
<text x="402.80" y="59.26" font-size="7.5" text-anchor="end" fill="#000" >2000</text>
<line x1="493.00" y1="113.30" x2="493.00" y2="118.60" stroke="#000" stroke-width="1.3" />
<text x="493.00" y="129.50" font-size="7.6" text-anchor="middle" fill="#000" >80</text>
<line x1="405.20" y1="42.60" x2="410.10" y2="42.60" stroke="#000" stroke-width="1.3" />
<text x="402.80" y="45.70" font-size="7.5" text-anchor="end" fill="#000" >2500</text>
<line x1="512.80" y1="113.30" x2="512.80" y2="118.60" stroke="#000" stroke-width="1.3" />
<text x="512.80" y="129.50" font-size="7.6" text-anchor="middle" fill="#000" >100</text>
<text x="462.90" y="140.80" font-size="7.3" text-anchor="middle" fill="#000" >Days</text>
<text transform="translate(376.9,80.6) rotate(-90)" x="0" y="0" font-size="7.5" text-anchor="middle">Tumor Size <tspan font-size="8.6" dy="0.6">(</tspan><tspan dy="-0.6">mm</tspan><tspan font-size="4.8" dy="-3.0">3</tspan><tspan font-size="8.6" dy="3.6">)</tspan></text>
<polyline points="413.80,100.09 415.78,89.25 417.76,96.30 420.73,101.45 423.70,104.43 427.66,106.33 431.62,107.42 435.58,107.96 439.54,108.23 443.50,107.69 447.46,107.15" fill="none" stroke="#4a63b8" stroke-width="0.85" stroke-linejoin="round" opacity="0.9"/>
<circle cx="413.80" cy="100.09" r="0.8" fill="#4a63b8"/>
<circle cx="415.78" cy="89.25" r="0.8" fill="#4a63b8"/>
<circle cx="417.76" cy="96.30" r="0.8" fill="#4a63b8"/>
<circle cx="420.73" cy="101.45" r="0.8" fill="#4a63b8"/>
<circle cx="423.70" cy="104.43" r="0.8" fill="#4a63b8"/>
<circle cx="427.66" cy="106.33" r="0.8" fill="#4a63b8"/>
<circle cx="431.62" cy="107.42" r="0.8" fill="#4a63b8"/>
<circle cx="435.58" cy="107.96" r="0.8" fill="#4a63b8"/>
<circle cx="439.54" cy="108.23" r="0.8" fill="#4a63b8"/>
<circle cx="443.50" cy="107.69" r="0.8" fill="#4a63b8"/>
<circle cx="447.46" cy="107.15" r="0.8" fill="#4a63b8"/>
<polyline points="413.80,97.65 415.78,93.59 418.75,100.64 421.72,103.62 425.68,105.79 429.64,106.87 433.60,107.15 437.56,106.60 441.52,105.52 445.48,104.70" fill="none" stroke="#4a63b8" stroke-width="0.85" stroke-linejoin="round" opacity="0.9"/>
<circle cx="413.80" cy="97.65" r="0.8" fill="#4a63b8"/>
<circle cx="415.78" cy="93.59" r="0.8" fill="#4a63b8"/>
<circle cx="418.75" cy="100.64" r="0.8" fill="#4a63b8"/>
<circle cx="421.72" cy="103.62" r="0.8" fill="#4a63b8"/>
<circle cx="425.68" cy="105.79" r="0.8" fill="#4a63b8"/>
<circle cx="429.64" cy="106.87" r="0.8" fill="#4a63b8"/>
<circle cx="433.60" cy="107.15" r="0.8" fill="#4a63b8"/>
<circle cx="437.56" cy="106.60" r="0.8" fill="#4a63b8"/>
<circle cx="441.52" cy="105.52" r="0.8" fill="#4a63b8"/>
<circle cx="445.48" cy="104.70" r="0.8" fill="#4a63b8"/>
<polyline points="413.80,98.41 416.77,100.49 420.73,102.79 423.70,103.95 427.66,104.98 431.62,104.98 435.08,103.89 438.25,101.53 441.02,95.21 443.50,90.01 445.78,84.91 447.95,80.00 449.64,75.14 451.32,69.99 452.61,64.84 453.80,60.01 455.58,51.55 457.26,42.90" fill="none" stroke="#2f3f9c" stroke-width="0.85" stroke-linejoin="round" opacity="0.9"/>
<circle cx="413.80" cy="98.41" r="0.8" fill="#2f3f9c"/>
<circle cx="416.77" cy="100.49" r="0.8" fill="#2f3f9c"/>
<circle cx="420.73" cy="102.79" r="0.8" fill="#2f3f9c"/>
<circle cx="423.70" cy="103.95" r="0.8" fill="#2f3f9c"/>
<circle cx="427.66" cy="104.98" r="0.8" fill="#2f3f9c"/>
<circle cx="431.62" cy="104.98" r="0.8" fill="#2f3f9c"/>
<circle cx="435.08" cy="103.89" r="0.8" fill="#2f3f9c"/>
<circle cx="438.25" cy="101.53" r="0.8" fill="#2f3f9c"/>
<circle cx="441.02" cy="95.21" r="0.8" fill="#2f3f9c"/>
<circle cx="443.50" cy="90.01" r="0.8" fill="#2f3f9c"/>
<circle cx="445.78" cy="84.91" r="0.8" fill="#2f3f9c"/>
<circle cx="447.95" cy="80.00" r="0.8" fill="#2f3f9c"/>
<circle cx="449.64" cy="75.14" r="0.8" fill="#2f3f9c"/>
<circle cx="451.32" cy="69.99" r="0.8" fill="#2f3f9c"/>
<circle cx="452.61" cy="64.84" r="0.8" fill="#2f3f9c"/>
<circle cx="453.80" cy="60.01" r="0.8" fill="#2f3f9c"/>
<circle cx="455.58" cy="51.55" r="0.8" fill="#2f3f9c"/>
<circle cx="457.26" cy="42.90" r="0.8" fill="#2f3f9c"/>
<polyline points="413.80,99.34 416.77,101.64 420.73,103.95 423.70,105.10 427.66,106.06 431.62,105.63 435.58,104.76 438.55,103.46 441.52,99.80 444.49,90.01 446.96,80.00 448.65,75.14 450.23,69.99 451.52,60.01 453.00,47.21" fill="none" stroke="#4a63b8" stroke-width="0.85" stroke-linejoin="round" opacity="0.9"/>
<circle cx="413.80" cy="99.34" r="0.8" fill="#4a63b8"/>
<circle cx="416.77" cy="101.64" r="0.8" fill="#4a63b8"/>
<circle cx="420.73" cy="103.95" r="0.8" fill="#4a63b8"/>
<circle cx="423.70" cy="105.10" r="0.8" fill="#4a63b8"/>
<circle cx="427.66" cy="106.06" r="0.8" fill="#4a63b8"/>
<circle cx="431.62" cy="105.63" r="0.8" fill="#4a63b8"/>
<circle cx="435.58" cy="104.76" r="0.8" fill="#4a63b8"/>
<circle cx="438.55" cy="103.46" r="0.8" fill="#4a63b8"/>
<circle cx="441.52" cy="99.80" r="0.8" fill="#4a63b8"/>
<circle cx="444.49" cy="90.01" r="0.8" fill="#4a63b8"/>
<circle cx="446.96" cy="80.00" r="0.8" fill="#4a63b8"/>
<circle cx="448.65" cy="75.14" r="0.8" fill="#4a63b8"/>
<circle cx="450.23" cy="69.99" r="0.8" fill="#4a63b8"/>
<circle cx="451.52" cy="60.01" r="0.8" fill="#4a63b8"/>
<circle cx="453.00" cy="47.21" r="0.8" fill="#4a63b8"/>
<polyline points="413.80,97.49 415.78,90.81 417.76,96.57 420.73,100.72 423.70,102.79 427.66,104.33 431.62,104.98 435.58,104.76 439.54,104.33 443.00,101.45 445.88,99.31 447.95,90.01 449.54,80.00 450.53,69.99 452.51,58.00 454.98,45.01" fill="none" stroke="#2f3f9c" stroke-width="0.85" stroke-linejoin="round" opacity="0.9"/>
<circle cx="413.80" cy="97.49" r="0.8" fill="#2f3f9c"/>
<circle cx="415.78" cy="90.81" r="0.8" fill="#2f3f9c"/>
<circle cx="417.76" cy="96.57" r="0.8" fill="#2f3f9c"/>
<circle cx="420.73" cy="100.72" r="0.8" fill="#2f3f9c"/>
<circle cx="423.70" cy="102.79" r="0.8" fill="#2f3f9c"/>
<circle cx="427.66" cy="104.33" r="0.8" fill="#2f3f9c"/>
<circle cx="431.62" cy="104.98" r="0.8" fill="#2f3f9c"/>
<circle cx="435.58" cy="104.76" r="0.8" fill="#2f3f9c"/>
<circle cx="439.54" cy="104.33" r="0.8" fill="#2f3f9c"/>
<circle cx="443.00" cy="101.45" r="0.8" fill="#2f3f9c"/>
<circle cx="445.88" cy="99.31" r="0.8" fill="#2f3f9c"/>
<circle cx="447.95" cy="90.01" r="0.8" fill="#2f3f9c"/>
<circle cx="449.54" cy="80.00" r="0.8" fill="#2f3f9c"/>
<circle cx="450.53" cy="69.99" r="0.8" fill="#2f3f9c"/>
<circle cx="452.51" cy="58.00" r="0.8" fill="#2f3f9c"/>
<circle cx="454.98" cy="45.01" r="0.8" fill="#2f3f9c"/>
<polyline points="413.80,96.57 416.77,99.34 420.73,102.79 423.70,104.41 427.66,105.63 431.62,106.06 435.58,106.28 439.54,106.06 443.50,104.43 447.95,104.03 453.60,98.47 458.15,89.46 463.70,79.48 469.24,65.92 473.40,48.30" fill="none" stroke="#4a63b8" stroke-width="0.85" stroke-linejoin="round" opacity="0.9"/>
<circle cx="413.80" cy="96.57" r="0.8" fill="#4a63b8"/>
<circle cx="416.77" cy="99.34" r="0.8" fill="#4a63b8"/>
<circle cx="420.73" cy="102.79" r="0.8" fill="#4a63b8"/>
<circle cx="423.70" cy="104.41" r="0.8" fill="#4a63b8"/>
<circle cx="427.66" cy="105.63" r="0.8" fill="#4a63b8"/>
<circle cx="431.62" cy="106.06" r="0.8" fill="#4a63b8"/>
<circle cx="435.58" cy="106.28" r="0.8" fill="#4a63b8"/>
<circle cx="439.54" cy="106.06" r="0.8" fill="#4a63b8"/>
<circle cx="443.50" cy="104.43" r="0.8" fill="#4a63b8"/>
<circle cx="447.95" cy="104.03" r="0.8" fill="#4a63b8"/>
<circle cx="453.60" cy="98.47" r="0.8" fill="#4a63b8"/>
<circle cx="458.15" cy="89.46" r="0.8" fill="#4a63b8"/>
<circle cx="463.70" cy="79.48" r="0.8" fill="#4a63b8"/>
<circle cx="469.24" cy="65.92" r="0.8" fill="#4a63b8"/>
<circle cx="473.40" cy="48.30" r="0.8" fill="#4a63b8"/>
<polyline points="413.80,101.18 416.77,102.79 420.73,104.64 423.70,106.02 427.66,106.93 431.62,107.58 435.58,107.80 439.54,107.58 443.50,106.33 450.03,104.98 454.98,101.04 461.02,93.04 465.97,82.25 470.53,70.37 473.40,55.13" fill="none" stroke="#2f3f9c" stroke-width="0.85" stroke-linejoin="round" opacity="0.9"/>
<circle cx="413.80" cy="101.18" r="0.8" fill="#2f3f9c"/>
<circle cx="416.77" cy="102.79" r="0.8" fill="#2f3f9c"/>
<circle cx="420.73" cy="104.64" r="0.8" fill="#2f3f9c"/>
<circle cx="423.70" cy="106.02" r="0.8" fill="#2f3f9c"/>
<circle cx="427.66" cy="106.93" r="0.8" fill="#2f3f9c"/>
<circle cx="431.62" cy="107.58" r="0.8" fill="#2f3f9c"/>
<circle cx="435.58" cy="107.80" r="0.8" fill="#2f3f9c"/>
<circle cx="439.54" cy="107.58" r="0.8" fill="#2f3f9c"/>
<circle cx="443.50" cy="106.33" r="0.8" fill="#2f3f9c"/>
<circle cx="450.03" cy="104.98" r="0.8" fill="#2f3f9c"/>
<circle cx="454.98" cy="101.04" r="0.8" fill="#2f3f9c"/>
<circle cx="461.02" cy="93.04" r="0.8" fill="#2f3f9c"/>
<circle cx="465.97" cy="82.25" r="0.8" fill="#2f3f9c"/>
<circle cx="470.53" cy="70.37" r="0.8" fill="#2f3f9c"/>
<circle cx="473.40" cy="55.13" r="0.8" fill="#2f3f9c"/>
<polyline points="413.80,98.41 416.77,100.49 420.73,103.48 423.70,105.10 427.66,106.49 431.62,106.93 435.58,107.15 439.54,106.93 443.50,105.52 451.02,104.98 455.97,100.07 461.02,93.04 465.48,85.80 471.02,74.11 473.69,74.11 477.36,69.58 481.02,57.79 484.68,49.38" fill="none" stroke="#4a63b8" stroke-width="0.85" stroke-linejoin="round" opacity="0.9"/>
<circle cx="413.80" cy="98.41" r="0.8" fill="#4a63b8"/>
<circle cx="416.77" cy="100.49" r="0.8" fill="#4a63b8"/>
<circle cx="420.73" cy="103.48" r="0.8" fill="#4a63b8"/>
<circle cx="423.70" cy="105.10" r="0.8" fill="#4a63b8"/>
<circle cx="427.66" cy="106.49" r="0.8" fill="#4a63b8"/>
<circle cx="431.62" cy="106.93" r="0.8" fill="#4a63b8"/>
<circle cx="435.58" cy="107.15" r="0.8" fill="#4a63b8"/>
<circle cx="439.54" cy="106.93" r="0.8" fill="#4a63b8"/>
<circle cx="443.50" cy="105.52" r="0.8" fill="#4a63b8"/>
<circle cx="451.02" cy="104.98" r="0.8" fill="#4a63b8"/>
<circle cx="455.97" cy="100.07" r="0.8" fill="#4a63b8"/>
<circle cx="461.02" cy="93.04" r="0.8" fill="#4a63b8"/>
<circle cx="465.48" cy="85.80" r="0.8" fill="#4a63b8"/>
<circle cx="471.02" cy="74.11" r="0.8" fill="#4a63b8"/>
<circle cx="473.69" cy="74.11" r="0.8" fill="#4a63b8"/>
<circle cx="477.36" cy="69.58" r="0.8" fill="#4a63b8"/>
<circle cx="481.02" cy="57.79" r="0.8" fill="#4a63b8"/>
<circle cx="484.68" cy="49.38" r="0.8" fill="#4a63b8"/>
<polyline points="413.80,99.34 416.77,102.10 420.73,104.18 423.70,105.79 427.66,106.93 431.62,107.58 435.58,108.01 439.54,108.01 443.50,106.87 449.44,105.52 455.97,103.02 462.01,97.11 467.26,90.47 471.91,82.25 476.66,69.72 481.91,56.43" fill="none" stroke="#2f3f9c" stroke-width="0.85" stroke-linejoin="round" opacity="0.9"/>
<circle cx="413.80" cy="99.34" r="0.8" fill="#2f3f9c"/>
<circle cx="416.77" cy="102.10" r="0.8" fill="#2f3f9c"/>
<circle cx="420.73" cy="104.18" r="0.8" fill="#2f3f9c"/>
<circle cx="423.70" cy="105.79" r="0.8" fill="#2f3f9c"/>
<circle cx="427.66" cy="106.93" r="0.8" fill="#2f3f9c"/>
<circle cx="431.62" cy="107.58" r="0.8" fill="#2f3f9c"/>
<circle cx="435.58" cy="108.01" r="0.8" fill="#2f3f9c"/>
<circle cx="439.54" cy="108.01" r="0.8" fill="#2f3f9c"/>
<circle cx="443.50" cy="106.87" r="0.8" fill="#2f3f9c"/>
<circle cx="449.44" cy="105.52" r="0.8" fill="#2f3f9c"/>
<circle cx="455.97" cy="103.02" r="0.8" fill="#2f3f9c"/>
<circle cx="462.01" cy="97.11" r="0.8" fill="#2f3f9c"/>
<circle cx="467.26" cy="90.47" r="0.8" fill="#2f3f9c"/>
<circle cx="471.91" cy="82.25" r="0.8" fill="#2f3f9c"/>
<circle cx="476.66" cy="69.72" r="0.8" fill="#2f3f9c"/>
<circle cx="481.91" cy="56.43" r="0.8" fill="#2f3f9c"/>
<polyline points="413.80,100.49 416.77,103.48 420.73,105.33 423.70,106.48 427.66,107.58 431.62,108.23 435.58,108.45 439.54,108.45 443.50,107.42 448.45,105.79 453.40,103.35 458.35,99.55 463.00,96.11 468.15,92.15 471.71,92.15 475.38,92.15 479.14,92.15 482.11,89.71 486.47,81.35 490.03,78.94 493.79,76.80 498.44,67.79 502.01,55.13" fill="none" stroke="#4a63b8" stroke-width="0.85" stroke-linejoin="round" opacity="0.9"/>
<circle cx="413.80" cy="100.49" r="0.8" fill="#4a63b8"/>
<circle cx="416.77" cy="103.48" r="0.8" fill="#4a63b8"/>
<circle cx="420.73" cy="105.33" r="0.8" fill="#4a63b8"/>
<circle cx="423.70" cy="106.48" r="0.8" fill="#4a63b8"/>
<circle cx="427.66" cy="107.58" r="0.8" fill="#4a63b8"/>
<circle cx="431.62" cy="108.23" r="0.8" fill="#4a63b8"/>
<circle cx="435.58" cy="108.45" r="0.8" fill="#4a63b8"/>
<circle cx="439.54" cy="108.45" r="0.8" fill="#4a63b8"/>
<circle cx="443.50" cy="107.42" r="0.8" fill="#4a63b8"/>
<circle cx="448.45" cy="105.79" r="0.8" fill="#4a63b8"/>
<circle cx="453.40" cy="103.35" r="0.8" fill="#4a63b8"/>
<circle cx="458.35" cy="99.55" r="0.8" fill="#4a63b8"/>
<circle cx="463.00" cy="96.11" r="0.8" fill="#4a63b8"/>
<circle cx="468.15" cy="92.15" r="0.8" fill="#4a63b8"/>
<circle cx="471.71" cy="92.15" r="0.8" fill="#4a63b8"/>
<circle cx="475.38" cy="92.15" r="0.8" fill="#4a63b8"/>
<circle cx="479.14" cy="92.15" r="0.8" fill="#4a63b8"/>
<circle cx="482.11" cy="89.71" r="0.8" fill="#4a63b8"/>
<circle cx="486.47" cy="81.35" r="0.8" fill="#4a63b8"/>
<circle cx="490.03" cy="78.94" r="0.8" fill="#4a63b8"/>
<circle cx="493.79" cy="76.80" r="0.8" fill="#4a63b8"/>
<circle cx="498.44" cy="67.79" r="0.8" fill="#4a63b8"/>
<circle cx="502.01" cy="55.13" r="0.8" fill="#4a63b8"/>
<polyline points="413.80,98.87 416.77,103.02 419.74,106.48 422.71,108.79 425.68,110.05 428.65,110.40 431.62,110.40 434.59,110.40 437.56,110.40 440.53,110.40 443.50,110.40 446.47,110.40 449.44,110.40 452.41,110.40 455.38,110.40 458.35,110.40 461.32,110.40 464.29,110.40 467.26,110.40 470.23,110.40 473.20,110.40 476.17,110.40 479.14,110.40 482.11,110.40 485.08,110.40 488.05,110.40 491.02,110.40 493.99,110.40 496.96,110.40 499.93,110.40 502.90,110.40" fill="none" stroke="#2f3f9c" stroke-width="0.85" stroke-linejoin="round" opacity="0.9"/>
<circle cx="413.80" cy="98.87" r="0.8" fill="#2f3f9c"/>
<circle cx="416.77" cy="103.02" r="0.8" fill="#2f3f9c"/>
<circle cx="419.74" cy="106.48" r="0.8" fill="#2f3f9c"/>
<circle cx="422.71" cy="108.79" r="0.8" fill="#2f3f9c"/>
<circle cx="425.68" cy="110.05" r="0.8" fill="#2f3f9c"/>
<circle cx="428.65" cy="110.40" r="0.8" fill="#2f3f9c"/>
<circle cx="431.62" cy="110.40" r="0.8" fill="#2f3f9c"/>
<circle cx="434.59" cy="110.40" r="0.8" fill="#2f3f9c"/>
<circle cx="437.56" cy="110.40" r="0.8" fill="#2f3f9c"/>
<circle cx="440.53" cy="110.40" r="0.8" fill="#2f3f9c"/>
<circle cx="443.50" cy="110.40" r="0.8" fill="#2f3f9c"/>
<circle cx="446.47" cy="110.40" r="0.8" fill="#2f3f9c"/>
<circle cx="449.44" cy="110.40" r="0.8" fill="#2f3f9c"/>
<circle cx="452.41" cy="110.40" r="0.8" fill="#2f3f9c"/>
<circle cx="455.38" cy="110.40" r="0.8" fill="#2f3f9c"/>
<circle cx="458.35" cy="110.40" r="0.8" fill="#2f3f9c"/>
<circle cx="461.32" cy="110.40" r="0.8" fill="#2f3f9c"/>
<circle cx="464.29" cy="110.40" r="0.8" fill="#2f3f9c"/>
<circle cx="467.26" cy="110.40" r="0.8" fill="#2f3f9c"/>
<circle cx="470.23" cy="110.40" r="0.8" fill="#2f3f9c"/>
<circle cx="473.20" cy="110.40" r="0.8" fill="#2f3f9c"/>
<circle cx="476.17" cy="110.40" r="0.8" fill="#2f3f9c"/>
<circle cx="479.14" cy="110.40" r="0.8" fill="#2f3f9c"/>
<circle cx="482.11" cy="110.40" r="0.8" fill="#2f3f9c"/>
<circle cx="485.08" cy="110.40" r="0.8" fill="#2f3f9c"/>
<circle cx="488.05" cy="110.40" r="0.8" fill="#2f3f9c"/>
<circle cx="491.02" cy="110.40" r="0.8" fill="#2f3f9c"/>
<circle cx="493.99" cy="110.40" r="0.8" fill="#2f3f9c"/>
<circle cx="496.96" cy="110.40" r="0.8" fill="#2f3f9c"/>
<circle cx="499.93" cy="110.40" r="0.8" fill="#2f3f9c"/>
<circle cx="502.90" cy="110.40" r="0.8" fill="#2f3f9c"/>
<polyline points="413.80,97.49 416.77,101.18 420.73,105.10 423.70,106.94 427.66,108.23 431.62,109.10 435.58,109.75 439.54,110.07 443.50,110.26 447.46,110.40" fill="none" stroke="#4a63b8" stroke-width="0.85" stroke-linejoin="round" opacity="0.9"/>
<circle cx="413.80" cy="97.49" r="0.8" fill="#4a63b8"/>
<circle cx="416.77" cy="101.18" r="0.8" fill="#4a63b8"/>
<circle cx="420.73" cy="105.10" r="0.8" fill="#4a63b8"/>
<circle cx="423.70" cy="106.94" r="0.8" fill="#4a63b8"/>
<circle cx="427.66" cy="108.23" r="0.8" fill="#4a63b8"/>
<circle cx="431.62" cy="109.10" r="0.8" fill="#4a63b8"/>
<circle cx="435.58" cy="109.75" r="0.8" fill="#4a63b8"/>
<circle cx="439.54" cy="110.07" r="0.8" fill="#4a63b8"/>
<circle cx="443.50" cy="110.26" r="0.8" fill="#4a63b8"/>
<circle cx="447.46" cy="110.40" r="0.8" fill="#4a63b8"/>
<polyline points="413.80,100.03 416.77,102.79 419.74,105.33 422.71,106.94 425.68,108.33 428.65,109.32 431.62,109.75 434.59,110.18 437.56,110.40" fill="none" stroke="#2f3f9c" stroke-width="0.85" stroke-linejoin="round" opacity="0.9"/>
<circle cx="413.80" cy="100.03" r="0.8" fill="#2f3f9c"/>
<circle cx="416.77" cy="102.79" r="0.8" fill="#2f3f9c"/>
<circle cx="419.74" cy="105.33" r="0.8" fill="#2f3f9c"/>
<circle cx="422.71" cy="106.94" r="0.8" fill="#2f3f9c"/>
<circle cx="425.68" cy="108.33" r="0.8" fill="#2f3f9c"/>
<circle cx="428.65" cy="109.32" r="0.8" fill="#2f3f9c"/>
<circle cx="431.62" cy="109.75" r="0.8" fill="#2f3f9c"/>
<circle cx="434.59" cy="110.18" r="0.8" fill="#2f3f9c"/>
<circle cx="437.56" cy="110.40" r="0.8" fill="#2f3f9c"/>
<line x1="417.50" y1="89.80" x2="417.50" y2="97.20" stroke="#000" stroke-width="1.0" />
<line x1="414.30" y1="89.80" x2="420.70" y2="89.80" stroke="#000" stroke-width="1.0" />
<line x1="414.30" y1="97.20" x2="420.70" y2="97.20" stroke="#000" stroke-width="1.0" />
<path d="M417.50,91.10 L420.00,95.72 L415.00,95.72Z" fill="#000"/>
<line x1="422.10" y1="83.50" x2="422.10" y2="90.60" stroke="#000" stroke-width="1.0" />
<line x1="418.90" y1="83.50" x2="425.30" y2="83.50" stroke="#000" stroke-width="1.0" />
<line x1="418.90" y1="90.60" x2="425.30" y2="90.60" stroke="#000" stroke-width="1.0" />
<path d="M422.10,84.30 L424.60,88.92 L419.60,88.92Z" fill="#000"/>
<line x1="425.50" y1="76.60" x2="425.50" y2="85.80" stroke="#000" stroke-width="1.0" />
<line x1="422.30" y1="76.60" x2="428.70" y2="76.60" stroke="#000" stroke-width="1.0" />
<line x1="422.30" y1="85.80" x2="428.70" y2="85.80" stroke="#000" stroke-width="1.0" />
<path d="M425.50,79.10 L428.00,83.72 L423.00,83.72Z" fill="#000"/>
<text x="0.90" y="167.10" font-size="11.9" text-anchor="start" fill="#000" style="stroke-width:0">C</text>
<line x1="41.50" y1="176.30" x2="78.60" y2="176.30" stroke="#5c5c5c" stroke-width="3.3" />
<text x="84.40" y="179.10" font-size="9.2" text-anchor="start" fill="#000" >Dosing Period</text>
<line x1="34.00" y1="182.90" x2="34.00" y2="324.60" stroke="#5f5f5f" stroke-width="1.3" />
<line x1="33.40" y1="322.60" x2="37.80" y2="322.60" stroke="#222" stroke-width="1.0" />
<line x1="40.30" y1="322.60" x2="224.40" y2="322.60" stroke="#222" stroke-width="1.0" />
<line x1="40.30" y1="320.80" x2="40.30" y2="324.60" stroke="#222" stroke-width="0.7" />
<line x1="31.50" y1="322.60" x2="34.00" y2="322.60" stroke="#5f5f5f" stroke-width="1.0" />
<text x="31.00" y="324.60" font-size="5.3" text-anchor="end" fill="#222" font-weight="normal">0</text>
<line x1="31.50" y1="294.76" x2="34.00" y2="294.76" stroke="#5f5f5f" stroke-width="1.0" />
<text x="31.00" y="296.76" font-size="5.3" text-anchor="end" fill="#222" font-weight="normal">20</text>
<line x1="31.50" y1="266.92" x2="34.00" y2="266.92" stroke="#5f5f5f" stroke-width="1.0" />
<text x="31.00" y="268.92" font-size="5.3" text-anchor="end" fill="#222" font-weight="normal">40</text>
<line x1="31.50" y1="239.08" x2="34.00" y2="239.08" stroke="#5f5f5f" stroke-width="1.0" />
<text x="31.00" y="241.08" font-size="5.3" text-anchor="end" fill="#222" font-weight="normal">60</text>
<line x1="31.50" y1="211.24" x2="34.00" y2="211.24" stroke="#5f5f5f" stroke-width="1.0" />
<text x="31.00" y="213.24" font-size="5.3" text-anchor="end" fill="#222" font-weight="normal">80</text>
<line x1="31.50" y1="183.40" x2="34.00" y2="183.40" stroke="#5f5f5f" stroke-width="1.0" />
<text x="31.00" y="185.40" font-size="5.3" text-anchor="end" fill="#222" font-weight="normal">100</text>
<line x1="42.00" y1="322.60" x2="42.00" y2="325.30" stroke="#222" stroke-width="0.8" />
<line x1="44.49" y1="322.60" x2="44.49" y2="324.60" stroke="#222" stroke-width="0.8" />
<line x1="46.97" y1="322.60" x2="46.97" y2="324.60" stroke="#222" stroke-width="0.8" />
<line x1="49.46" y1="322.60" x2="49.46" y2="324.60" stroke="#222" stroke-width="0.8" />
<line x1="51.94" y1="322.60" x2="51.94" y2="324.60" stroke="#222" stroke-width="0.8" />
<line x1="54.43" y1="322.60" x2="54.43" y2="324.60" stroke="#222" stroke-width="0.8" />
<line x1="56.92" y1="322.60" x2="56.92" y2="324.60" stroke="#222" stroke-width="0.8" />
<line x1="59.40" y1="322.60" x2="59.40" y2="324.60" stroke="#222" stroke-width="0.8" />
<line x1="61.89" y1="322.60" x2="61.89" y2="324.60" stroke="#222" stroke-width="0.8" />
<line x1="64.37" y1="322.60" x2="64.37" y2="324.60" stroke="#222" stroke-width="0.8" />
<line x1="66.86" y1="322.60" x2="66.86" y2="325.30" stroke="#222" stroke-width="0.8" />
<line x1="69.35" y1="322.60" x2="69.35" y2="324.60" stroke="#222" stroke-width="0.8" />
<line x1="71.83" y1="322.60" x2="71.83" y2="324.60" stroke="#222" stroke-width="0.8" />
<line x1="74.32" y1="322.60" x2="74.32" y2="324.60" stroke="#222" stroke-width="0.8" />
<line x1="76.80" y1="322.60" x2="76.80" y2="324.60" stroke="#222" stroke-width="0.8" />
<line x1="79.29" y1="322.60" x2="79.29" y2="324.60" stroke="#222" stroke-width="0.8" />
<line x1="81.78" y1="322.60" x2="81.78" y2="324.60" stroke="#222" stroke-width="0.8" />
<line x1="84.26" y1="322.60" x2="84.26" y2="324.60" stroke="#222" stroke-width="0.8" />
<line x1="86.75" y1="322.60" x2="86.75" y2="324.60" stroke="#222" stroke-width="0.8" />
<line x1="89.23" y1="322.60" x2="89.23" y2="324.60" stroke="#222" stroke-width="0.8" />
<line x1="91.72" y1="322.60" x2="91.72" y2="325.30" stroke="#222" stroke-width="0.8" />
<line x1="94.21" y1="322.60" x2="94.21" y2="324.60" stroke="#222" stroke-width="0.8" />
<line x1="96.69" y1="322.60" x2="96.69" y2="324.60" stroke="#222" stroke-width="0.8" />
<line x1="99.18" y1="322.60" x2="99.18" y2="324.60" stroke="#222" stroke-width="0.8" />
<line x1="101.66" y1="322.60" x2="101.66" y2="324.60" stroke="#222" stroke-width="0.8" />
<line x1="104.15" y1="322.60" x2="104.15" y2="324.60" stroke="#222" stroke-width="0.8" />
<line x1="106.64" y1="322.60" x2="106.64" y2="324.60" stroke="#222" stroke-width="0.8" />
<line x1="109.12" y1="322.60" x2="109.12" y2="324.60" stroke="#222" stroke-width="0.8" />
<line x1="111.61" y1="322.60" x2="111.61" y2="324.60" stroke="#222" stroke-width="0.8" />
<line x1="114.09" y1="322.60" x2="114.09" y2="324.60" stroke="#222" stroke-width="0.8" />
<line x1="116.58" y1="322.60" x2="116.58" y2="325.30" stroke="#222" stroke-width="0.8" />
<line x1="119.07" y1="322.60" x2="119.07" y2="324.60" stroke="#222" stroke-width="0.8" />
<line x1="121.55" y1="322.60" x2="121.55" y2="324.60" stroke="#222" stroke-width="0.8" />
<line x1="124.04" y1="322.60" x2="124.04" y2="324.60" stroke="#222" stroke-width="0.8" />
<line x1="126.52" y1="322.60" x2="126.52" y2="324.60" stroke="#222" stroke-width="0.8" />
<line x1="129.01" y1="322.60" x2="129.01" y2="324.60" stroke="#222" stroke-width="0.8" />
<line x1="131.50" y1="322.60" x2="131.50" y2="324.60" stroke="#222" stroke-width="0.8" />
<line x1="133.98" y1="322.60" x2="133.98" y2="324.60" stroke="#222" stroke-width="0.8" />
<line x1="136.47" y1="322.60" x2="136.47" y2="324.60" stroke="#222" stroke-width="0.8" />
<line x1="138.95" y1="322.60" x2="138.95" y2="324.60" stroke="#222" stroke-width="0.8" />
<line x1="141.44" y1="322.60" x2="141.44" y2="325.30" stroke="#222" stroke-width="0.8" />
<line x1="143.93" y1="322.60" x2="143.93" y2="324.60" stroke="#222" stroke-width="0.8" />
<line x1="146.41" y1="322.60" x2="146.41" y2="324.60" stroke="#222" stroke-width="0.8" />
<line x1="148.90" y1="322.60" x2="148.90" y2="324.60" stroke="#222" stroke-width="0.8" />
<line x1="151.38" y1="322.60" x2="151.38" y2="324.60" stroke="#222" stroke-width="0.8" />
<line x1="153.87" y1="322.60" x2="153.87" y2="324.60" stroke="#222" stroke-width="0.8" />
<line x1="156.36" y1="322.60" x2="156.36" y2="324.60" stroke="#222" stroke-width="0.8" />
<line x1="158.84" y1="322.60" x2="158.84" y2="324.60" stroke="#222" stroke-width="0.8" />
<line x1="161.33" y1="322.60" x2="161.33" y2="324.60" stroke="#222" stroke-width="0.8" />
<line x1="163.81" y1="322.60" x2="163.81" y2="324.60" stroke="#222" stroke-width="0.8" />
<line x1="166.30" y1="322.60" x2="166.30" y2="325.30" stroke="#222" stroke-width="0.8" />
<line x1="168.79" y1="322.60" x2="168.79" y2="324.60" stroke="#222" stroke-width="0.8" />
<line x1="171.27" y1="322.60" x2="171.27" y2="324.60" stroke="#222" stroke-width="0.8" />
<line x1="173.76" y1="322.60" x2="173.76" y2="324.60" stroke="#222" stroke-width="0.8" />
<line x1="176.24" y1="322.60" x2="176.24" y2="324.60" stroke="#222" stroke-width="0.8" />
<line x1="178.73" y1="322.60" x2="178.73" y2="324.60" stroke="#222" stroke-width="0.8" />
<line x1="181.22" y1="322.60" x2="181.22" y2="324.60" stroke="#222" stroke-width="0.8" />
<line x1="183.70" y1="322.60" x2="183.70" y2="324.60" stroke="#222" stroke-width="0.8" />
<line x1="186.19" y1="322.60" x2="186.19" y2="324.60" stroke="#222" stroke-width="0.8" />
<line x1="188.67" y1="322.60" x2="188.67" y2="324.60" stroke="#222" stroke-width="0.8" />
<line x1="191.16" y1="322.60" x2="191.16" y2="325.30" stroke="#222" stroke-width="0.8" />
<line x1="193.65" y1="322.60" x2="193.65" y2="324.60" stroke="#222" stroke-width="0.8" />
<line x1="196.13" y1="322.60" x2="196.13" y2="324.60" stroke="#222" stroke-width="0.8" />
<line x1="198.62" y1="322.60" x2="198.62" y2="324.60" stroke="#222" stroke-width="0.8" />
<line x1="201.10" y1="322.60" x2="201.10" y2="324.60" stroke="#222" stroke-width="0.8" />
<line x1="203.59" y1="322.60" x2="203.59" y2="324.60" stroke="#222" stroke-width="0.8" />
<line x1="206.08" y1="322.60" x2="206.08" y2="324.60" stroke="#222" stroke-width="0.8" />
<line x1="208.56" y1="322.60" x2="208.56" y2="324.60" stroke="#222" stroke-width="0.8" />
<line x1="211.05" y1="322.60" x2="211.05" y2="324.60" stroke="#222" stroke-width="0.8" />
<line x1="213.53" y1="322.60" x2="213.53" y2="324.60" stroke="#222" stroke-width="0.8" />
<line x1="216.02" y1="322.60" x2="216.02" y2="325.30" stroke="#222" stroke-width="0.8" />
<line x1="218.51" y1="322.60" x2="218.51" y2="324.60" stroke="#222" stroke-width="0.8" />
<line x1="220.99" y1="322.60" x2="220.99" y2="324.60" stroke="#222" stroke-width="0.8" />
<text x="34.00" y="331.60" font-size="5.6" text-anchor="middle" fill="#222" font-weight="normal">0</text>
<text x="42.00" y="331.60" font-size="5.6" text-anchor="middle" fill="#222" font-weight="normal">20</text>
<text x="66.86" y="331.60" font-size="5.6" text-anchor="middle" fill="#222" font-weight="normal">40</text>
<text x="91.72" y="331.60" font-size="5.6" text-anchor="middle" fill="#222" font-weight="normal">60</text>
<text x="116.58" y="331.60" font-size="5.6" text-anchor="middle" fill="#222" font-weight="normal">80</text>
<text x="141.44" y="331.60" font-size="5.6" text-anchor="middle" fill="#222" font-weight="normal">100</text>
<text x="166.30" y="331.60" font-size="5.6" text-anchor="middle" fill="#222" font-weight="normal">120</text>
<text x="191.16" y="331.60" font-size="5.6" text-anchor="middle" fill="#222" font-weight="normal">140</text>
<text x="216.02" y="331.60" font-size="5.6" text-anchor="middle" fill="#222" font-weight="normal">160</text>
<text x="126.40" y="347.20" font-size="11.2" text-anchor="middle" fill="#000" >Days</text>
<text x="0.00" y="0.00" font-size="11.4" text-anchor="middle" fill="#000" transform="translate(14.3,251.2) rotate(-90)">Percent Surviving</text>
<polyline points="107.30,183.40 107.30,211.24 108.90,211.24 108.90,239.08 110.80,239.08 110.80,266.92 137.20,266.92 137.20,322.60" fill="none" stroke="#3b3984" stroke-width="1.15" stroke-linejoin="round" />
<polyline points="75.00,183.40 75.00,197.32 81.60,197.32 81.60,211.24 82.60,211.24 82.60,239.08 83.80,239.08 83.80,253.00 84.60,253.00 84.60,266.92 88.50,266.92 88.50,280.84 90.80,280.84 90.80,308.68 97.60,308.68 97.60,322.60" fill="none" stroke="#e8764f" stroke-width="1.15" stroke-linejoin="round" />
<polyline points="68.70,183.40 68.70,197.32 71.00,197.32 71.00,211.24 72.70,211.24 72.70,225.16 74.90,225.16 74.90,239.08 76.50,239.08 76.50,253.00 77.30,253.00 77.30,280.84 79.90,280.84 79.90,308.68 81.00,308.68 81.00,322.60" fill="none" stroke="#141018" stroke-width="1.5" stroke-linejoin="round" />
<polyline points="34.00,183.40 170.80,183.40 170.80,211.24 224.50,211.24" fill="none" stroke="#ad3445" stroke-width="1.05" stroke-linejoin="round" />
<rect x="67.20" y="195.82" width="3.2" height="3.0" fill="#141018"/>
<rect x="69.50" y="209.74" width="3.2" height="3.0" fill="#141018"/>
<rect x="71.20" y="223.66" width="3.2" height="3.0" fill="#141018"/>
<rect x="73.40" y="237.58" width="3.2" height="3.0" fill="#141018"/>
<rect x="75.00" y="251.50" width="3.2" height="3.0" fill="#141018"/>
<rect x="75.80" y="279.34" width="3.2" height="3.0" fill="#141018"/>
<rect x="78.40" y="307.18" width="3.2" height="3.0" fill="#141018"/>
<rect x="79.50" y="321.10" width="3.2" height="3.0" fill="#141018"/>
<path d="M75.30,195.72 L76.90,198.68 L73.70,198.68Z" fill="#e8764f"/>
<path d="M81.90,209.64 L83.50,212.60 L80.30,212.60Z" fill="#e8764f"/>
<path d="M82.90,237.48 L84.50,240.44 L81.30,240.44Z" fill="#e8764f"/>
<path d="M84.10,251.40 L85.70,254.36 L82.50,254.36Z" fill="#e8764f"/>
<path d="M84.90,265.32 L86.50,268.28 L83.30,268.28Z" fill="#e8764f"/>
<path d="M88.80,279.24 L90.40,282.20 L87.20,282.20Z" fill="#e8764f"/>
<path d="M91.10,307.08 L92.70,310.04 L89.50,310.04Z" fill="#e8764f"/>
<path d="M97.90,321.00 L99.50,323.96 L96.30,323.96Z" fill="#e8764f"/>
<path d="M107.60,209.04 L109.80,213.11 L105.40,213.11Z" fill="#3b3984"/>
<path d="M109.20,236.88 L111.40,240.95 L107.00,240.95Z" fill="#3b3984"/>
<path d="M111.10,264.72 L113.30,268.79 L108.90,268.79Z" fill="#3b3984"/>
<path d="M137.50,320.40 L139.70,324.47 L135.30,324.47Z" fill="#3b3984"/>
<circle cx="170.8" cy="211.24" r="2.9" fill="#ad3445"/>
<text x="185.00" y="225.40" font-size="7.8" text-anchor="start" fill="#000" >10 mg/kg</text>
<text x="143.60" y="275.20" font-size="7.9" text-anchor="start" fill="#000" >1 mg/kg</text>
<text x="95.30" y="305.50" font-size="7.9" text-anchor="start" fill="#000" >0.1 mg/kg</text>
</svg>
</body></html>
